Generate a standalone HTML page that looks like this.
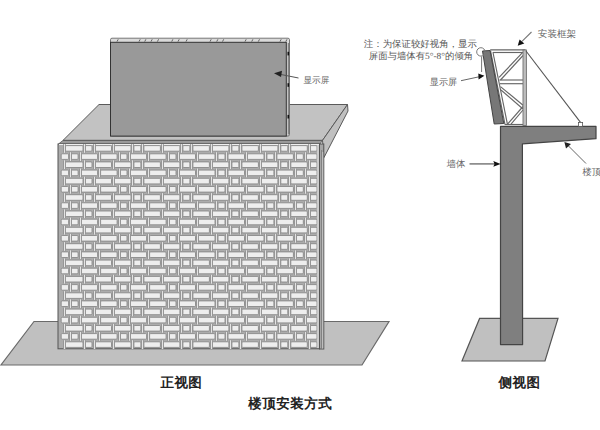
<!DOCTYPE html>
<html><head><meta charset="utf-8">
<style>
html,body{margin:0;padding:0;background:#fff;}
body{width:600px;height:430px;overflow:hidden;position:relative;}
svg{position:absolute;left:0;top:0;}
.br{fill:#eeeeee;stroke:#858585;stroke-width:0.85;}
.jt{fill:#e4e4e4;}
.jd{fill:#969696;}
.tk{stroke:#555;stroke-width:0.9;}
.fr line{stroke:#666;stroke-width:1.15;}
text{font-family:"Liberation Serif", serif;}
</style></head><body>
<svg width="600" height="430" viewBox="0 0 600 430" text-rendering="geometricPrecision">
<rect x="0" y="0" width="600" height="430" fill="#fff"/>
<!-- FRONT VIEW -->
<polygon points="34,321.5 389,321.5 362,365 1,365" fill="#c0c0c0" stroke="#6a6a6a" stroke-width="1.2"/>
<polygon points="99,104.5 347.5,104.5 322.5,140.4 63,140.4" fill="#c2c2c2" stroke="#5a5a5a" stroke-width="1"/>
<polygon points="347.5,104.5 348,111 324,157.5 322.5,140.4" fill="#c0c0c0" stroke="#5a5a5a" stroke-width="1"/>
<polygon points="63,140.4 322.5,140.4 320,144 58.5,144" fill="#9a9a9a" stroke="#555" stroke-width="0.8"/>
<rect x="58" y="144" width="261.5" height="204.8" fill="#acacac" stroke="#555" stroke-width="1"/>
<line x1="59" y1="144.5" x2="319" y2="144.5" stroke="#efefef" stroke-width="1"/>
<rect x="65.5" y="145.6" width="17.5" height="5.6" rx="1" class="br"/>
<rect x="85.0" y="145.6" width="7.0" height="5.6" rx="1" class="br"/>
<rect x="95.0" y="145.6" width="16.5" height="5.6" rx="1" class="br"/>
<rect x="114.5" y="145.6" width="16.5" height="5.6" rx="1" class="br"/>
<rect x="133.9" y="145.6" width="7.0" height="5.6" rx="1" class="br"/>
<rect x="143.9" y="145.6" width="16.5" height="5.6" rx="1" class="br"/>
<rect x="163.4" y="145.6" width="16.5" height="5.6" rx="1" class="br"/>
<rect x="182.9" y="145.6" width="7.0" height="5.6" rx="1" class="br"/>
<rect x="192.9" y="145.6" width="16.5" height="5.6" rx="1" class="br"/>
<rect x="212.4" y="145.6" width="16.5" height="5.6" rx="1" class="br"/>
<rect x="231.9" y="145.6" width="7.0" height="5.6" rx="1" class="br"/>
<rect x="241.9" y="145.6" width="16.5" height="5.6" rx="1" class="br"/>
<rect x="261.4" y="145.6" width="16.5" height="5.6" rx="1" class="br"/>
<rect x="280.8" y="145.6" width="7.0" height="5.6" rx="1" class="br"/>
<rect x="290.8" y="145.6" width="16.5" height="5.6" rx="1" class="br"/>
<rect x="310.0" y="145.6" width="7.0" height="5.6" rx="1" class="br"/>
<rect x="63" y="144.2" width="3" height="8.4" class="jd"/>
<rect x="64" y="144.0" width="1" height="8.8" class="jt"/>
<rect x="83" y="144.2" width="3" height="8.4" class="jd"/>
<rect x="84" y="144.0" width="1" height="8.8" class="jt"/>
<rect x="93" y="144.2" width="3" height="8.4" class="jd"/>
<rect x="94" y="144.0" width="1" height="8.8" class="jt"/>
<rect x="112" y="144.2" width="3" height="8.4" class="jd"/>
<rect x="113" y="144.0" width="1" height="8.8" class="jt"/>
<rect x="131" y="144.2" width="3" height="8.4" class="jd"/>
<rect x="132" y="144.0" width="1" height="8.8" class="jt"/>
<rect x="141" y="144.2" width="3" height="8.4" class="jd"/>
<rect x="142" y="144.0" width="1" height="8.8" class="jt"/>
<rect x="161" y="144.2" width="3" height="8.4" class="jd"/>
<rect x="162" y="144.0" width="1" height="8.8" class="jt"/>
<rect x="180" y="144.2" width="3" height="8.4" class="jd"/>
<rect x="181" y="144.0" width="1" height="8.8" class="jt"/>
<rect x="190" y="144.2" width="3" height="8.4" class="jd"/>
<rect x="191" y="144.0" width="1" height="8.8" class="jt"/>
<rect x="210" y="144.2" width="3" height="8.4" class="jd"/>
<rect x="211" y="144.0" width="1" height="8.8" class="jt"/>
<rect x="229" y="144.2" width="3" height="8.4" class="jd"/>
<rect x="230" y="144.0" width="1" height="8.8" class="jt"/>
<rect x="239" y="144.2" width="3" height="8.4" class="jd"/>
<rect x="240" y="144.0" width="1" height="8.8" class="jt"/>
<rect x="259" y="144.2" width="3" height="8.4" class="jd"/>
<rect x="260" y="144.0" width="1" height="8.8" class="jt"/>
<rect x="278" y="144.2" width="3" height="8.4" class="jd"/>
<rect x="279" y="144.0" width="1" height="8.8" class="jt"/>
<rect x="288" y="144.2" width="3" height="8.4" class="jd"/>
<rect x="289" y="144.0" width="1" height="8.8" class="jt"/>
<rect x="308" y="144.2" width="3" height="8.4" class="jd"/>
<rect x="309" y="144.0" width="1" height="8.8" class="jt"/>
<rect x="61.2" y="153.8" width="7.4" height="5.6" rx="1" class="br"/>
<rect x="71.1" y="153.8" width="7.0" height="5.6" rx="1" class="br"/>
<rect x="81.1" y="153.8" width="16.5" height="5.6" rx="1" class="br"/>
<rect x="100.6" y="153.8" width="16.5" height="5.6" rx="1" class="br"/>
<rect x="120.0" y="153.8" width="7.0" height="5.6" rx="1" class="br"/>
<rect x="130.1" y="153.8" width="16.5" height="5.6" rx="1" class="br"/>
<rect x="149.6" y="153.8" width="16.5" height="5.6" rx="1" class="br"/>
<rect x="169.0" y="153.8" width="7.0" height="5.6" rx="1" class="br"/>
<rect x="179.0" y="153.8" width="16.5" height="5.6" rx="1" class="br"/>
<rect x="198.5" y="153.8" width="16.5" height="5.6" rx="1" class="br"/>
<rect x="218.0" y="153.8" width="7.0" height="5.6" rx="1" class="br"/>
<rect x="228.0" y="153.8" width="16.5" height="5.6" rx="1" class="br"/>
<rect x="247.5" y="153.8" width="16.5" height="5.6" rx="1" class="br"/>
<rect x="266.9" y="153.8" width="7.0" height="5.6" rx="1" class="br"/>
<rect x="276.9" y="153.8" width="16.5" height="5.6" rx="1" class="br"/>
<rect x="295.8" y="153.8" width="7.5" height="5.6" rx="1" class="br"/>
<rect x="306.5" y="153.8" width="10.5" height="5.6" rx="1" class="br"/>
<rect x="69" y="152.4" width="3" height="8.4" class="jd"/>
<rect x="70" y="152.2" width="1" height="8.8" class="jt"/>
<rect x="79" y="152.4" width="3" height="8.4" class="jd"/>
<rect x="80" y="152.2" width="1" height="8.8" class="jt"/>
<rect x="98" y="152.4" width="3" height="8.4" class="jd"/>
<rect x="99" y="152.2" width="1" height="8.8" class="jt"/>
<rect x="118" y="152.4" width="3" height="8.4" class="jd"/>
<rect x="119" y="152.2" width="1" height="8.8" class="jt"/>
<rect x="128" y="152.4" width="3" height="8.4" class="jd"/>
<rect x="129" y="152.2" width="1" height="8.8" class="jt"/>
<rect x="147" y="152.4" width="3" height="8.4" class="jd"/>
<rect x="148" y="152.2" width="1" height="8.8" class="jt"/>
<rect x="167" y="152.4" width="3" height="8.4" class="jd"/>
<rect x="168" y="152.2" width="1" height="8.8" class="jt"/>
<rect x="177" y="152.4" width="3" height="8.4" class="jd"/>
<rect x="178" y="152.2" width="1" height="8.8" class="jt"/>
<rect x="196" y="152.4" width="3" height="8.4" class="jd"/>
<rect x="197" y="152.2" width="1" height="8.8" class="jt"/>
<rect x="215" y="152.4" width="3" height="8.4" class="jd"/>
<rect x="216" y="152.2" width="1" height="8.8" class="jt"/>
<rect x="225" y="152.4" width="3" height="8.4" class="jd"/>
<rect x="226" y="152.2" width="1" height="8.8" class="jt"/>
<rect x="245" y="152.4" width="3" height="8.4" class="jd"/>
<rect x="246" y="152.2" width="1" height="8.8" class="jt"/>
<rect x="264" y="152.4" width="3" height="8.4" class="jd"/>
<rect x="265" y="152.2" width="1" height="8.8" class="jt"/>
<rect x="274" y="152.4" width="3" height="8.4" class="jd"/>
<rect x="275" y="152.2" width="1" height="8.8" class="jt"/>
<rect x="294" y="152.4" width="3" height="8.4" class="jd"/>
<rect x="295" y="152.2" width="1" height="8.8" class="jt"/>
<rect x="304" y="152.4" width="3" height="8.4" class="jd"/>
<rect x="305" y="152.2" width="1" height="8.8" class="jt"/>
<rect x="65.5" y="161.9" width="17.5" height="5.6" rx="1" class="br"/>
<rect x="85.0" y="161.9" width="7.0" height="5.6" rx="1" class="br"/>
<rect x="95.0" y="161.9" width="16.5" height="5.6" rx="1" class="br"/>
<rect x="114.5" y="161.9" width="16.5" height="5.6" rx="1" class="br"/>
<rect x="133.9" y="161.9" width="7.0" height="5.6" rx="1" class="br"/>
<rect x="143.9" y="161.9" width="16.5" height="5.6" rx="1" class="br"/>
<rect x="163.4" y="161.9" width="16.5" height="5.6" rx="1" class="br"/>
<rect x="182.9" y="161.9" width="7.0" height="5.6" rx="1" class="br"/>
<rect x="192.9" y="161.9" width="16.5" height="5.6" rx="1" class="br"/>
<rect x="212.4" y="161.9" width="16.5" height="5.6" rx="1" class="br"/>
<rect x="231.9" y="161.9" width="7.0" height="5.6" rx="1" class="br"/>
<rect x="241.9" y="161.9" width="16.5" height="5.6" rx="1" class="br"/>
<rect x="261.4" y="161.9" width="16.5" height="5.6" rx="1" class="br"/>
<rect x="280.8" y="161.9" width="7.0" height="5.6" rx="1" class="br"/>
<rect x="290.8" y="161.9" width="16.5" height="5.6" rx="1" class="br"/>
<rect x="310.0" y="161.9" width="7.0" height="5.6" rx="1" class="br"/>
<rect x="63" y="160.5" width="3" height="8.4" class="jd"/>
<rect x="64" y="160.3" width="1" height="8.8" class="jt"/>
<rect x="83" y="160.5" width="3" height="8.4" class="jd"/>
<rect x="84" y="160.3" width="1" height="8.8" class="jt"/>
<rect x="93" y="160.5" width="3" height="8.4" class="jd"/>
<rect x="94" y="160.3" width="1" height="8.8" class="jt"/>
<rect x="112" y="160.5" width="3" height="8.4" class="jd"/>
<rect x="113" y="160.3" width="1" height="8.8" class="jt"/>
<rect x="131" y="160.5" width="3" height="8.4" class="jd"/>
<rect x="132" y="160.3" width="1" height="8.8" class="jt"/>
<rect x="141" y="160.5" width="3" height="8.4" class="jd"/>
<rect x="142" y="160.3" width="1" height="8.8" class="jt"/>
<rect x="161" y="160.5" width="3" height="8.4" class="jd"/>
<rect x="162" y="160.3" width="1" height="8.8" class="jt"/>
<rect x="180" y="160.5" width="3" height="8.4" class="jd"/>
<rect x="181" y="160.3" width="1" height="8.8" class="jt"/>
<rect x="190" y="160.5" width="3" height="8.4" class="jd"/>
<rect x="191" y="160.3" width="1" height="8.8" class="jt"/>
<rect x="210" y="160.5" width="3" height="8.4" class="jd"/>
<rect x="211" y="160.3" width="1" height="8.8" class="jt"/>
<rect x="229" y="160.5" width="3" height="8.4" class="jd"/>
<rect x="230" y="160.3" width="1" height="8.8" class="jt"/>
<rect x="239" y="160.5" width="3" height="8.4" class="jd"/>
<rect x="240" y="160.3" width="1" height="8.8" class="jt"/>
<rect x="259" y="160.5" width="3" height="8.4" class="jd"/>
<rect x="260" y="160.3" width="1" height="8.8" class="jt"/>
<rect x="278" y="160.5" width="3" height="8.4" class="jd"/>
<rect x="279" y="160.3" width="1" height="8.8" class="jt"/>
<rect x="288" y="160.5" width="3" height="8.4" class="jd"/>
<rect x="289" y="160.3" width="1" height="8.8" class="jt"/>
<rect x="308" y="160.5" width="3" height="8.4" class="jd"/>
<rect x="309" y="160.3" width="1" height="8.8" class="jt"/>
<rect x="61.2" y="170.1" width="7.4" height="5.6" rx="1" class="br"/>
<rect x="71.1" y="170.1" width="7.0" height="5.6" rx="1" class="br"/>
<rect x="81.1" y="170.1" width="16.5" height="5.6" rx="1" class="br"/>
<rect x="100.6" y="170.1" width="16.5" height="5.6" rx="1" class="br"/>
<rect x="120.0" y="170.1" width="7.0" height="5.6" rx="1" class="br"/>
<rect x="130.1" y="170.1" width="16.5" height="5.6" rx="1" class="br"/>
<rect x="149.6" y="170.1" width="16.5" height="5.6" rx="1" class="br"/>
<rect x="169.0" y="170.1" width="7.0" height="5.6" rx="1" class="br"/>
<rect x="179.0" y="170.1" width="16.5" height="5.6" rx="1" class="br"/>
<rect x="198.5" y="170.1" width="16.5" height="5.6" rx="1" class="br"/>
<rect x="218.0" y="170.1" width="7.0" height="5.6" rx="1" class="br"/>
<rect x="228.0" y="170.1" width="16.5" height="5.6" rx="1" class="br"/>
<rect x="247.5" y="170.1" width="16.5" height="5.6" rx="1" class="br"/>
<rect x="266.9" y="170.1" width="7.0" height="5.6" rx="1" class="br"/>
<rect x="276.9" y="170.1" width="16.5" height="5.6" rx="1" class="br"/>
<rect x="295.8" y="170.1" width="7.5" height="5.6" rx="1" class="br"/>
<rect x="306.5" y="170.1" width="10.5" height="5.6" rx="1" class="br"/>
<rect x="69" y="168.7" width="3" height="8.4" class="jd"/>
<rect x="70" y="168.5" width="1" height="8.8" class="jt"/>
<rect x="79" y="168.7" width="3" height="8.4" class="jd"/>
<rect x="80" y="168.5" width="1" height="8.8" class="jt"/>
<rect x="98" y="168.7" width="3" height="8.4" class="jd"/>
<rect x="99" y="168.5" width="1" height="8.8" class="jt"/>
<rect x="118" y="168.7" width="3" height="8.4" class="jd"/>
<rect x="119" y="168.5" width="1" height="8.8" class="jt"/>
<rect x="128" y="168.7" width="3" height="8.4" class="jd"/>
<rect x="129" y="168.5" width="1" height="8.8" class="jt"/>
<rect x="147" y="168.7" width="3" height="8.4" class="jd"/>
<rect x="148" y="168.5" width="1" height="8.8" class="jt"/>
<rect x="167" y="168.7" width="3" height="8.4" class="jd"/>
<rect x="168" y="168.5" width="1" height="8.8" class="jt"/>
<rect x="177" y="168.7" width="3" height="8.4" class="jd"/>
<rect x="178" y="168.5" width="1" height="8.8" class="jt"/>
<rect x="196" y="168.7" width="3" height="8.4" class="jd"/>
<rect x="197" y="168.5" width="1" height="8.8" class="jt"/>
<rect x="215" y="168.7" width="3" height="8.4" class="jd"/>
<rect x="216" y="168.5" width="1" height="8.8" class="jt"/>
<rect x="225" y="168.7" width="3" height="8.4" class="jd"/>
<rect x="226" y="168.5" width="1" height="8.8" class="jt"/>
<rect x="245" y="168.7" width="3" height="8.4" class="jd"/>
<rect x="246" y="168.5" width="1" height="8.8" class="jt"/>
<rect x="264" y="168.7" width="3" height="8.4" class="jd"/>
<rect x="265" y="168.5" width="1" height="8.8" class="jt"/>
<rect x="274" y="168.7" width="3" height="8.4" class="jd"/>
<rect x="275" y="168.5" width="1" height="8.8" class="jt"/>
<rect x="294" y="168.7" width="3" height="8.4" class="jd"/>
<rect x="295" y="168.5" width="1" height="8.8" class="jt"/>
<rect x="304" y="168.7" width="3" height="8.4" class="jd"/>
<rect x="305" y="168.5" width="1" height="8.8" class="jt"/>
<rect x="65.5" y="178.3" width="17.5" height="5.6" rx="1" class="br"/>
<rect x="85.0" y="178.3" width="7.0" height="5.6" rx="1" class="br"/>
<rect x="95.0" y="178.3" width="16.5" height="5.6" rx="1" class="br"/>
<rect x="114.5" y="178.3" width="16.5" height="5.6" rx="1" class="br"/>
<rect x="133.9" y="178.3" width="7.0" height="5.6" rx="1" class="br"/>
<rect x="143.9" y="178.3" width="16.5" height="5.6" rx="1" class="br"/>
<rect x="163.4" y="178.3" width="16.5" height="5.6" rx="1" class="br"/>
<rect x="182.9" y="178.3" width="7.0" height="5.6" rx="1" class="br"/>
<rect x="192.9" y="178.3" width="16.5" height="5.6" rx="1" class="br"/>
<rect x="212.4" y="178.3" width="16.5" height="5.6" rx="1" class="br"/>
<rect x="231.9" y="178.3" width="7.0" height="5.6" rx="1" class="br"/>
<rect x="241.9" y="178.3" width="16.5" height="5.6" rx="1" class="br"/>
<rect x="261.4" y="178.3" width="16.5" height="5.6" rx="1" class="br"/>
<rect x="280.8" y="178.3" width="7.0" height="5.6" rx="1" class="br"/>
<rect x="290.8" y="178.3" width="16.5" height="5.6" rx="1" class="br"/>
<rect x="310.0" y="178.3" width="7.0" height="5.6" rx="1" class="br"/>
<rect x="63" y="176.9" width="3" height="8.4" class="jd"/>
<rect x="64" y="176.7" width="1" height="8.8" class="jt"/>
<rect x="83" y="176.9" width="3" height="8.4" class="jd"/>
<rect x="84" y="176.7" width="1" height="8.8" class="jt"/>
<rect x="93" y="176.9" width="3" height="8.4" class="jd"/>
<rect x="94" y="176.7" width="1" height="8.8" class="jt"/>
<rect x="112" y="176.9" width="3" height="8.4" class="jd"/>
<rect x="113" y="176.7" width="1" height="8.8" class="jt"/>
<rect x="131" y="176.9" width="3" height="8.4" class="jd"/>
<rect x="132" y="176.7" width="1" height="8.8" class="jt"/>
<rect x="141" y="176.9" width="3" height="8.4" class="jd"/>
<rect x="142" y="176.7" width="1" height="8.8" class="jt"/>
<rect x="161" y="176.9" width="3" height="8.4" class="jd"/>
<rect x="162" y="176.7" width="1" height="8.8" class="jt"/>
<rect x="180" y="176.9" width="3" height="8.4" class="jd"/>
<rect x="181" y="176.7" width="1" height="8.8" class="jt"/>
<rect x="190" y="176.9" width="3" height="8.4" class="jd"/>
<rect x="191" y="176.7" width="1" height="8.8" class="jt"/>
<rect x="210" y="176.9" width="3" height="8.4" class="jd"/>
<rect x="211" y="176.7" width="1" height="8.8" class="jt"/>
<rect x="229" y="176.9" width="3" height="8.4" class="jd"/>
<rect x="230" y="176.7" width="1" height="8.8" class="jt"/>
<rect x="239" y="176.9" width="3" height="8.4" class="jd"/>
<rect x="240" y="176.7" width="1" height="8.8" class="jt"/>
<rect x="259" y="176.9" width="3" height="8.4" class="jd"/>
<rect x="260" y="176.7" width="1" height="8.8" class="jt"/>
<rect x="278" y="176.9" width="3" height="8.4" class="jd"/>
<rect x="279" y="176.7" width="1" height="8.8" class="jt"/>
<rect x="288" y="176.9" width="3" height="8.4" class="jd"/>
<rect x="289" y="176.7" width="1" height="8.8" class="jt"/>
<rect x="308" y="176.9" width="3" height="8.4" class="jd"/>
<rect x="309" y="176.7" width="1" height="8.8" class="jt"/>
<rect x="61.2" y="186.5" width="7.4" height="5.6" rx="1" class="br"/>
<rect x="71.1" y="186.5" width="7.0" height="5.6" rx="1" class="br"/>
<rect x="81.1" y="186.5" width="16.5" height="5.6" rx="1" class="br"/>
<rect x="100.6" y="186.5" width="16.5" height="5.6" rx="1" class="br"/>
<rect x="120.0" y="186.5" width="7.0" height="5.6" rx="1" class="br"/>
<rect x="130.1" y="186.5" width="16.5" height="5.6" rx="1" class="br"/>
<rect x="149.6" y="186.5" width="16.5" height="5.6" rx="1" class="br"/>
<rect x="169.0" y="186.5" width="7.0" height="5.6" rx="1" class="br"/>
<rect x="179.0" y="186.5" width="16.5" height="5.6" rx="1" class="br"/>
<rect x="198.5" y="186.5" width="16.5" height="5.6" rx="1" class="br"/>
<rect x="218.0" y="186.5" width="7.0" height="5.6" rx="1" class="br"/>
<rect x="228.0" y="186.5" width="16.5" height="5.6" rx="1" class="br"/>
<rect x="247.5" y="186.5" width="16.5" height="5.6" rx="1" class="br"/>
<rect x="266.9" y="186.5" width="7.0" height="5.6" rx="1" class="br"/>
<rect x="276.9" y="186.5" width="16.5" height="5.6" rx="1" class="br"/>
<rect x="295.8" y="186.5" width="7.5" height="5.6" rx="1" class="br"/>
<rect x="306.5" y="186.5" width="10.5" height="5.6" rx="1" class="br"/>
<rect x="69" y="185.1" width="3" height="8.4" class="jd"/>
<rect x="70" y="184.9" width="1" height="8.8" class="jt"/>
<rect x="79" y="185.1" width="3" height="8.4" class="jd"/>
<rect x="80" y="184.9" width="1" height="8.8" class="jt"/>
<rect x="98" y="185.1" width="3" height="8.4" class="jd"/>
<rect x="99" y="184.9" width="1" height="8.8" class="jt"/>
<rect x="118" y="185.1" width="3" height="8.4" class="jd"/>
<rect x="119" y="184.9" width="1" height="8.8" class="jt"/>
<rect x="128" y="185.1" width="3" height="8.4" class="jd"/>
<rect x="129" y="184.9" width="1" height="8.8" class="jt"/>
<rect x="147" y="185.1" width="3" height="8.4" class="jd"/>
<rect x="148" y="184.9" width="1" height="8.8" class="jt"/>
<rect x="167" y="185.1" width="3" height="8.4" class="jd"/>
<rect x="168" y="184.9" width="1" height="8.8" class="jt"/>
<rect x="177" y="185.1" width="3" height="8.4" class="jd"/>
<rect x="178" y="184.9" width="1" height="8.8" class="jt"/>
<rect x="196" y="185.1" width="3" height="8.4" class="jd"/>
<rect x="197" y="184.9" width="1" height="8.8" class="jt"/>
<rect x="215" y="185.1" width="3" height="8.4" class="jd"/>
<rect x="216" y="184.9" width="1" height="8.8" class="jt"/>
<rect x="225" y="185.1" width="3" height="8.4" class="jd"/>
<rect x="226" y="184.9" width="1" height="8.8" class="jt"/>
<rect x="245" y="185.1" width="3" height="8.4" class="jd"/>
<rect x="246" y="184.9" width="1" height="8.8" class="jt"/>
<rect x="264" y="185.1" width="3" height="8.4" class="jd"/>
<rect x="265" y="184.9" width="1" height="8.8" class="jt"/>
<rect x="274" y="185.1" width="3" height="8.4" class="jd"/>
<rect x="275" y="184.9" width="1" height="8.8" class="jt"/>
<rect x="294" y="185.1" width="3" height="8.4" class="jd"/>
<rect x="295" y="184.9" width="1" height="8.8" class="jt"/>
<rect x="304" y="185.1" width="3" height="8.4" class="jd"/>
<rect x="305" y="184.9" width="1" height="8.8" class="jt"/>
<rect x="65.5" y="194.7" width="17.5" height="5.6" rx="1" class="br"/>
<rect x="85.0" y="194.7" width="7.0" height="5.6" rx="1" class="br"/>
<rect x="95.0" y="194.7" width="16.5" height="5.6" rx="1" class="br"/>
<rect x="114.5" y="194.7" width="16.5" height="5.6" rx="1" class="br"/>
<rect x="133.9" y="194.7" width="7.0" height="5.6" rx="1" class="br"/>
<rect x="143.9" y="194.7" width="16.5" height="5.6" rx="1" class="br"/>
<rect x="163.4" y="194.7" width="16.5" height="5.6" rx="1" class="br"/>
<rect x="182.9" y="194.7" width="7.0" height="5.6" rx="1" class="br"/>
<rect x="192.9" y="194.7" width="16.5" height="5.6" rx="1" class="br"/>
<rect x="212.4" y="194.7" width="16.5" height="5.6" rx="1" class="br"/>
<rect x="231.9" y="194.7" width="7.0" height="5.6" rx="1" class="br"/>
<rect x="241.9" y="194.7" width="16.5" height="5.6" rx="1" class="br"/>
<rect x="261.4" y="194.7" width="16.5" height="5.6" rx="1" class="br"/>
<rect x="280.8" y="194.7" width="7.0" height="5.6" rx="1" class="br"/>
<rect x="290.8" y="194.7" width="16.5" height="5.6" rx="1" class="br"/>
<rect x="310.0" y="194.7" width="7.0" height="5.6" rx="1" class="br"/>
<rect x="63" y="193.2" width="3" height="8.4" class="jd"/>
<rect x="64" y="193.1" width="1" height="8.8" class="jt"/>
<rect x="83" y="193.2" width="3" height="8.4" class="jd"/>
<rect x="84" y="193.1" width="1" height="8.8" class="jt"/>
<rect x="93" y="193.2" width="3" height="8.4" class="jd"/>
<rect x="94" y="193.1" width="1" height="8.8" class="jt"/>
<rect x="112" y="193.2" width="3" height="8.4" class="jd"/>
<rect x="113" y="193.1" width="1" height="8.8" class="jt"/>
<rect x="131" y="193.2" width="3" height="8.4" class="jd"/>
<rect x="132" y="193.1" width="1" height="8.8" class="jt"/>
<rect x="141" y="193.2" width="3" height="8.4" class="jd"/>
<rect x="142" y="193.1" width="1" height="8.8" class="jt"/>
<rect x="161" y="193.2" width="3" height="8.4" class="jd"/>
<rect x="162" y="193.1" width="1" height="8.8" class="jt"/>
<rect x="180" y="193.2" width="3" height="8.4" class="jd"/>
<rect x="181" y="193.1" width="1" height="8.8" class="jt"/>
<rect x="190" y="193.2" width="3" height="8.4" class="jd"/>
<rect x="191" y="193.1" width="1" height="8.8" class="jt"/>
<rect x="210" y="193.2" width="3" height="8.4" class="jd"/>
<rect x="211" y="193.1" width="1" height="8.8" class="jt"/>
<rect x="229" y="193.2" width="3" height="8.4" class="jd"/>
<rect x="230" y="193.1" width="1" height="8.8" class="jt"/>
<rect x="239" y="193.2" width="3" height="8.4" class="jd"/>
<rect x="240" y="193.1" width="1" height="8.8" class="jt"/>
<rect x="259" y="193.2" width="3" height="8.4" class="jd"/>
<rect x="260" y="193.1" width="1" height="8.8" class="jt"/>
<rect x="278" y="193.2" width="3" height="8.4" class="jd"/>
<rect x="279" y="193.1" width="1" height="8.8" class="jt"/>
<rect x="288" y="193.2" width="3" height="8.4" class="jd"/>
<rect x="289" y="193.1" width="1" height="8.8" class="jt"/>
<rect x="308" y="193.2" width="3" height="8.4" class="jd"/>
<rect x="309" y="193.1" width="1" height="8.8" class="jt"/>
<rect x="61.2" y="202.8" width="7.4" height="5.6" rx="1" class="br"/>
<rect x="71.1" y="202.8" width="7.0" height="5.6" rx="1" class="br"/>
<rect x="81.1" y="202.8" width="16.5" height="5.6" rx="1" class="br"/>
<rect x="100.6" y="202.8" width="16.5" height="5.6" rx="1" class="br"/>
<rect x="120.0" y="202.8" width="7.0" height="5.6" rx="1" class="br"/>
<rect x="130.1" y="202.8" width="16.5" height="5.6" rx="1" class="br"/>
<rect x="149.6" y="202.8" width="16.5" height="5.6" rx="1" class="br"/>
<rect x="169.0" y="202.8" width="7.0" height="5.6" rx="1" class="br"/>
<rect x="179.0" y="202.8" width="16.5" height="5.6" rx="1" class="br"/>
<rect x="198.5" y="202.8" width="16.5" height="5.6" rx="1" class="br"/>
<rect x="218.0" y="202.8" width="7.0" height="5.6" rx="1" class="br"/>
<rect x="228.0" y="202.8" width="16.5" height="5.6" rx="1" class="br"/>
<rect x="247.5" y="202.8" width="16.5" height="5.6" rx="1" class="br"/>
<rect x="266.9" y="202.8" width="7.0" height="5.6" rx="1" class="br"/>
<rect x="276.9" y="202.8" width="16.5" height="5.6" rx="1" class="br"/>
<rect x="295.8" y="202.8" width="7.5" height="5.6" rx="1" class="br"/>
<rect x="306.5" y="202.8" width="10.5" height="5.6" rx="1" class="br"/>
<rect x="69" y="201.4" width="3" height="8.4" class="jd"/>
<rect x="70" y="201.2" width="1" height="8.8" class="jt"/>
<rect x="79" y="201.4" width="3" height="8.4" class="jd"/>
<rect x="80" y="201.2" width="1" height="8.8" class="jt"/>
<rect x="98" y="201.4" width="3" height="8.4" class="jd"/>
<rect x="99" y="201.2" width="1" height="8.8" class="jt"/>
<rect x="118" y="201.4" width="3" height="8.4" class="jd"/>
<rect x="119" y="201.2" width="1" height="8.8" class="jt"/>
<rect x="128" y="201.4" width="3" height="8.4" class="jd"/>
<rect x="129" y="201.2" width="1" height="8.8" class="jt"/>
<rect x="147" y="201.4" width="3" height="8.4" class="jd"/>
<rect x="148" y="201.2" width="1" height="8.8" class="jt"/>
<rect x="167" y="201.4" width="3" height="8.4" class="jd"/>
<rect x="168" y="201.2" width="1" height="8.8" class="jt"/>
<rect x="177" y="201.4" width="3" height="8.4" class="jd"/>
<rect x="178" y="201.2" width="1" height="8.8" class="jt"/>
<rect x="196" y="201.4" width="3" height="8.4" class="jd"/>
<rect x="197" y="201.2" width="1" height="8.8" class="jt"/>
<rect x="215" y="201.4" width="3" height="8.4" class="jd"/>
<rect x="216" y="201.2" width="1" height="8.8" class="jt"/>
<rect x="225" y="201.4" width="3" height="8.4" class="jd"/>
<rect x="226" y="201.2" width="1" height="8.8" class="jt"/>
<rect x="245" y="201.4" width="3" height="8.4" class="jd"/>
<rect x="246" y="201.2" width="1" height="8.8" class="jt"/>
<rect x="264" y="201.4" width="3" height="8.4" class="jd"/>
<rect x="265" y="201.2" width="1" height="8.8" class="jt"/>
<rect x="274" y="201.4" width="3" height="8.4" class="jd"/>
<rect x="275" y="201.2" width="1" height="8.8" class="jt"/>
<rect x="294" y="201.4" width="3" height="8.4" class="jd"/>
<rect x="295" y="201.2" width="1" height="8.8" class="jt"/>
<rect x="304" y="201.4" width="3" height="8.4" class="jd"/>
<rect x="305" y="201.2" width="1" height="8.8" class="jt"/>
<rect x="65.5" y="211.0" width="17.5" height="5.6" rx="1" class="br"/>
<rect x="85.0" y="211.0" width="7.0" height="5.6" rx="1" class="br"/>
<rect x="95.0" y="211.0" width="16.5" height="5.6" rx="1" class="br"/>
<rect x="114.5" y="211.0" width="16.5" height="5.6" rx="1" class="br"/>
<rect x="133.9" y="211.0" width="7.0" height="5.6" rx="1" class="br"/>
<rect x="143.9" y="211.0" width="16.5" height="5.6" rx="1" class="br"/>
<rect x="163.4" y="211.0" width="16.5" height="5.6" rx="1" class="br"/>
<rect x="182.9" y="211.0" width="7.0" height="5.6" rx="1" class="br"/>
<rect x="192.9" y="211.0" width="16.5" height="5.6" rx="1" class="br"/>
<rect x="212.4" y="211.0" width="16.5" height="5.6" rx="1" class="br"/>
<rect x="231.9" y="211.0" width="7.0" height="5.6" rx="1" class="br"/>
<rect x="241.9" y="211.0" width="16.5" height="5.6" rx="1" class="br"/>
<rect x="261.4" y="211.0" width="16.5" height="5.6" rx="1" class="br"/>
<rect x="280.8" y="211.0" width="7.0" height="5.6" rx="1" class="br"/>
<rect x="290.8" y="211.0" width="16.5" height="5.6" rx="1" class="br"/>
<rect x="310.0" y="211.0" width="7.0" height="5.6" rx="1" class="br"/>
<rect x="63" y="209.6" width="3" height="8.4" class="jd"/>
<rect x="64" y="209.4" width="1" height="8.8" class="jt"/>
<rect x="83" y="209.6" width="3" height="8.4" class="jd"/>
<rect x="84" y="209.4" width="1" height="8.8" class="jt"/>
<rect x="93" y="209.6" width="3" height="8.4" class="jd"/>
<rect x="94" y="209.4" width="1" height="8.8" class="jt"/>
<rect x="112" y="209.6" width="3" height="8.4" class="jd"/>
<rect x="113" y="209.4" width="1" height="8.8" class="jt"/>
<rect x="131" y="209.6" width="3" height="8.4" class="jd"/>
<rect x="132" y="209.4" width="1" height="8.8" class="jt"/>
<rect x="141" y="209.6" width="3" height="8.4" class="jd"/>
<rect x="142" y="209.4" width="1" height="8.8" class="jt"/>
<rect x="161" y="209.6" width="3" height="8.4" class="jd"/>
<rect x="162" y="209.4" width="1" height="8.8" class="jt"/>
<rect x="180" y="209.6" width="3" height="8.4" class="jd"/>
<rect x="181" y="209.4" width="1" height="8.8" class="jt"/>
<rect x="190" y="209.6" width="3" height="8.4" class="jd"/>
<rect x="191" y="209.4" width="1" height="8.8" class="jt"/>
<rect x="210" y="209.6" width="3" height="8.4" class="jd"/>
<rect x="211" y="209.4" width="1" height="8.8" class="jt"/>
<rect x="229" y="209.6" width="3" height="8.4" class="jd"/>
<rect x="230" y="209.4" width="1" height="8.8" class="jt"/>
<rect x="239" y="209.6" width="3" height="8.4" class="jd"/>
<rect x="240" y="209.4" width="1" height="8.8" class="jt"/>
<rect x="259" y="209.6" width="3" height="8.4" class="jd"/>
<rect x="260" y="209.4" width="1" height="8.8" class="jt"/>
<rect x="278" y="209.6" width="3" height="8.4" class="jd"/>
<rect x="279" y="209.4" width="1" height="8.8" class="jt"/>
<rect x="288" y="209.6" width="3" height="8.4" class="jd"/>
<rect x="289" y="209.4" width="1" height="8.8" class="jt"/>
<rect x="308" y="209.6" width="3" height="8.4" class="jd"/>
<rect x="309" y="209.4" width="1" height="8.8" class="jt"/>
<rect x="61.2" y="219.2" width="7.4" height="5.6" rx="1" class="br"/>
<rect x="71.1" y="219.2" width="7.0" height="5.6" rx="1" class="br"/>
<rect x="81.1" y="219.2" width="16.5" height="5.6" rx="1" class="br"/>
<rect x="100.6" y="219.2" width="16.5" height="5.6" rx="1" class="br"/>
<rect x="120.0" y="219.2" width="7.0" height="5.6" rx="1" class="br"/>
<rect x="130.1" y="219.2" width="16.5" height="5.6" rx="1" class="br"/>
<rect x="149.6" y="219.2" width="16.5" height="5.6" rx="1" class="br"/>
<rect x="169.0" y="219.2" width="7.0" height="5.6" rx="1" class="br"/>
<rect x="179.0" y="219.2" width="16.5" height="5.6" rx="1" class="br"/>
<rect x="198.5" y="219.2" width="16.5" height="5.6" rx="1" class="br"/>
<rect x="218.0" y="219.2" width="7.0" height="5.6" rx="1" class="br"/>
<rect x="228.0" y="219.2" width="16.5" height="5.6" rx="1" class="br"/>
<rect x="247.5" y="219.2" width="16.5" height="5.6" rx="1" class="br"/>
<rect x="266.9" y="219.2" width="7.0" height="5.6" rx="1" class="br"/>
<rect x="276.9" y="219.2" width="16.5" height="5.6" rx="1" class="br"/>
<rect x="295.8" y="219.2" width="7.5" height="5.6" rx="1" class="br"/>
<rect x="306.5" y="219.2" width="10.5" height="5.6" rx="1" class="br"/>
<rect x="69" y="217.8" width="3" height="8.4" class="jd"/>
<rect x="70" y="217.6" width="1" height="8.8" class="jt"/>
<rect x="79" y="217.8" width="3" height="8.4" class="jd"/>
<rect x="80" y="217.6" width="1" height="8.8" class="jt"/>
<rect x="98" y="217.8" width="3" height="8.4" class="jd"/>
<rect x="99" y="217.6" width="1" height="8.8" class="jt"/>
<rect x="118" y="217.8" width="3" height="8.4" class="jd"/>
<rect x="119" y="217.6" width="1" height="8.8" class="jt"/>
<rect x="128" y="217.8" width="3" height="8.4" class="jd"/>
<rect x="129" y="217.6" width="1" height="8.8" class="jt"/>
<rect x="147" y="217.8" width="3" height="8.4" class="jd"/>
<rect x="148" y="217.6" width="1" height="8.8" class="jt"/>
<rect x="167" y="217.8" width="3" height="8.4" class="jd"/>
<rect x="168" y="217.6" width="1" height="8.8" class="jt"/>
<rect x="177" y="217.8" width="3" height="8.4" class="jd"/>
<rect x="178" y="217.6" width="1" height="8.8" class="jt"/>
<rect x="196" y="217.8" width="3" height="8.4" class="jd"/>
<rect x="197" y="217.6" width="1" height="8.8" class="jt"/>
<rect x="215" y="217.8" width="3" height="8.4" class="jd"/>
<rect x="216" y="217.6" width="1" height="8.8" class="jt"/>
<rect x="225" y="217.8" width="3" height="8.4" class="jd"/>
<rect x="226" y="217.6" width="1" height="8.8" class="jt"/>
<rect x="245" y="217.8" width="3" height="8.4" class="jd"/>
<rect x="246" y="217.6" width="1" height="8.8" class="jt"/>
<rect x="264" y="217.8" width="3" height="8.4" class="jd"/>
<rect x="265" y="217.6" width="1" height="8.8" class="jt"/>
<rect x="274" y="217.8" width="3" height="8.4" class="jd"/>
<rect x="275" y="217.6" width="1" height="8.8" class="jt"/>
<rect x="294" y="217.8" width="3" height="8.4" class="jd"/>
<rect x="295" y="217.6" width="1" height="8.8" class="jt"/>
<rect x="304" y="217.8" width="3" height="8.4" class="jd"/>
<rect x="305" y="217.6" width="1" height="8.8" class="jt"/>
<rect x="65.5" y="227.3" width="17.5" height="5.6" rx="1" class="br"/>
<rect x="85.0" y="227.3" width="7.0" height="5.6" rx="1" class="br"/>
<rect x="95.0" y="227.3" width="16.5" height="5.6" rx="1" class="br"/>
<rect x="114.5" y="227.3" width="16.5" height="5.6" rx="1" class="br"/>
<rect x="133.9" y="227.3" width="7.0" height="5.6" rx="1" class="br"/>
<rect x="143.9" y="227.3" width="16.5" height="5.6" rx="1" class="br"/>
<rect x="163.4" y="227.3" width="16.5" height="5.6" rx="1" class="br"/>
<rect x="182.9" y="227.3" width="7.0" height="5.6" rx="1" class="br"/>
<rect x="192.9" y="227.3" width="16.5" height="5.6" rx="1" class="br"/>
<rect x="212.4" y="227.3" width="16.5" height="5.6" rx="1" class="br"/>
<rect x="231.9" y="227.3" width="7.0" height="5.6" rx="1" class="br"/>
<rect x="241.9" y="227.3" width="16.5" height="5.6" rx="1" class="br"/>
<rect x="261.4" y="227.3" width="16.5" height="5.6" rx="1" class="br"/>
<rect x="280.8" y="227.3" width="7.0" height="5.6" rx="1" class="br"/>
<rect x="290.8" y="227.3" width="16.5" height="5.6" rx="1" class="br"/>
<rect x="310.0" y="227.3" width="7.0" height="5.6" rx="1" class="br"/>
<rect x="63" y="225.9" width="3" height="8.4" class="jd"/>
<rect x="64" y="225.8" width="1" height="8.8" class="jt"/>
<rect x="83" y="225.9" width="3" height="8.4" class="jd"/>
<rect x="84" y="225.8" width="1" height="8.8" class="jt"/>
<rect x="93" y="225.9" width="3" height="8.4" class="jd"/>
<rect x="94" y="225.8" width="1" height="8.8" class="jt"/>
<rect x="112" y="225.9" width="3" height="8.4" class="jd"/>
<rect x="113" y="225.8" width="1" height="8.8" class="jt"/>
<rect x="131" y="225.9" width="3" height="8.4" class="jd"/>
<rect x="132" y="225.8" width="1" height="8.8" class="jt"/>
<rect x="141" y="225.9" width="3" height="8.4" class="jd"/>
<rect x="142" y="225.8" width="1" height="8.8" class="jt"/>
<rect x="161" y="225.9" width="3" height="8.4" class="jd"/>
<rect x="162" y="225.8" width="1" height="8.8" class="jt"/>
<rect x="180" y="225.9" width="3" height="8.4" class="jd"/>
<rect x="181" y="225.8" width="1" height="8.8" class="jt"/>
<rect x="190" y="225.9" width="3" height="8.4" class="jd"/>
<rect x="191" y="225.8" width="1" height="8.8" class="jt"/>
<rect x="210" y="225.9" width="3" height="8.4" class="jd"/>
<rect x="211" y="225.8" width="1" height="8.8" class="jt"/>
<rect x="229" y="225.9" width="3" height="8.4" class="jd"/>
<rect x="230" y="225.8" width="1" height="8.8" class="jt"/>
<rect x="239" y="225.9" width="3" height="8.4" class="jd"/>
<rect x="240" y="225.8" width="1" height="8.8" class="jt"/>
<rect x="259" y="225.9" width="3" height="8.4" class="jd"/>
<rect x="260" y="225.8" width="1" height="8.8" class="jt"/>
<rect x="278" y="225.9" width="3" height="8.4" class="jd"/>
<rect x="279" y="225.8" width="1" height="8.8" class="jt"/>
<rect x="288" y="225.9" width="3" height="8.4" class="jd"/>
<rect x="289" y="225.8" width="1" height="8.8" class="jt"/>
<rect x="308" y="225.9" width="3" height="8.4" class="jd"/>
<rect x="309" y="225.8" width="1" height="8.8" class="jt"/>
<rect x="61.2" y="235.5" width="7.4" height="5.6" rx="1" class="br"/>
<rect x="71.1" y="235.5" width="7.0" height="5.6" rx="1" class="br"/>
<rect x="81.1" y="235.5" width="16.5" height="5.6" rx="1" class="br"/>
<rect x="100.6" y="235.5" width="16.5" height="5.6" rx="1" class="br"/>
<rect x="120.0" y="235.5" width="7.0" height="5.6" rx="1" class="br"/>
<rect x="130.1" y="235.5" width="16.5" height="5.6" rx="1" class="br"/>
<rect x="149.6" y="235.5" width="16.5" height="5.6" rx="1" class="br"/>
<rect x="169.0" y="235.5" width="7.0" height="5.6" rx="1" class="br"/>
<rect x="179.0" y="235.5" width="16.5" height="5.6" rx="1" class="br"/>
<rect x="198.5" y="235.5" width="16.5" height="5.6" rx="1" class="br"/>
<rect x="218.0" y="235.5" width="7.0" height="5.6" rx="1" class="br"/>
<rect x="228.0" y="235.5" width="16.5" height="5.6" rx="1" class="br"/>
<rect x="247.5" y="235.5" width="16.5" height="5.6" rx="1" class="br"/>
<rect x="266.9" y="235.5" width="7.0" height="5.6" rx="1" class="br"/>
<rect x="276.9" y="235.5" width="16.5" height="5.6" rx="1" class="br"/>
<rect x="295.8" y="235.5" width="7.5" height="5.6" rx="1" class="br"/>
<rect x="306.5" y="235.5" width="10.5" height="5.6" rx="1" class="br"/>
<rect x="69" y="234.1" width="3" height="8.4" class="jd"/>
<rect x="70" y="233.9" width="1" height="8.8" class="jt"/>
<rect x="79" y="234.1" width="3" height="8.4" class="jd"/>
<rect x="80" y="233.9" width="1" height="8.8" class="jt"/>
<rect x="98" y="234.1" width="3" height="8.4" class="jd"/>
<rect x="99" y="233.9" width="1" height="8.8" class="jt"/>
<rect x="118" y="234.1" width="3" height="8.4" class="jd"/>
<rect x="119" y="233.9" width="1" height="8.8" class="jt"/>
<rect x="128" y="234.1" width="3" height="8.4" class="jd"/>
<rect x="129" y="233.9" width="1" height="8.8" class="jt"/>
<rect x="147" y="234.1" width="3" height="8.4" class="jd"/>
<rect x="148" y="233.9" width="1" height="8.8" class="jt"/>
<rect x="167" y="234.1" width="3" height="8.4" class="jd"/>
<rect x="168" y="233.9" width="1" height="8.8" class="jt"/>
<rect x="177" y="234.1" width="3" height="8.4" class="jd"/>
<rect x="178" y="233.9" width="1" height="8.8" class="jt"/>
<rect x="196" y="234.1" width="3" height="8.4" class="jd"/>
<rect x="197" y="233.9" width="1" height="8.8" class="jt"/>
<rect x="215" y="234.1" width="3" height="8.4" class="jd"/>
<rect x="216" y="233.9" width="1" height="8.8" class="jt"/>
<rect x="225" y="234.1" width="3" height="8.4" class="jd"/>
<rect x="226" y="233.9" width="1" height="8.8" class="jt"/>
<rect x="245" y="234.1" width="3" height="8.4" class="jd"/>
<rect x="246" y="233.9" width="1" height="8.8" class="jt"/>
<rect x="264" y="234.1" width="3" height="8.4" class="jd"/>
<rect x="265" y="233.9" width="1" height="8.8" class="jt"/>
<rect x="274" y="234.1" width="3" height="8.4" class="jd"/>
<rect x="275" y="233.9" width="1" height="8.8" class="jt"/>
<rect x="294" y="234.1" width="3" height="8.4" class="jd"/>
<rect x="295" y="233.9" width="1" height="8.8" class="jt"/>
<rect x="304" y="234.1" width="3" height="8.4" class="jd"/>
<rect x="305" y="233.9" width="1" height="8.8" class="jt"/>
<rect x="65.5" y="243.7" width="17.5" height="5.6" rx="1" class="br"/>
<rect x="85.0" y="243.7" width="7.0" height="5.6" rx="1" class="br"/>
<rect x="95.0" y="243.7" width="16.5" height="5.6" rx="1" class="br"/>
<rect x="114.5" y="243.7" width="16.5" height="5.6" rx="1" class="br"/>
<rect x="133.9" y="243.7" width="7.0" height="5.6" rx="1" class="br"/>
<rect x="143.9" y="243.7" width="16.5" height="5.6" rx="1" class="br"/>
<rect x="163.4" y="243.7" width="16.5" height="5.6" rx="1" class="br"/>
<rect x="182.9" y="243.7" width="7.0" height="5.6" rx="1" class="br"/>
<rect x="192.9" y="243.7" width="16.5" height="5.6" rx="1" class="br"/>
<rect x="212.4" y="243.7" width="16.5" height="5.6" rx="1" class="br"/>
<rect x="231.9" y="243.7" width="7.0" height="5.6" rx="1" class="br"/>
<rect x="241.9" y="243.7" width="16.5" height="5.6" rx="1" class="br"/>
<rect x="261.4" y="243.7" width="16.5" height="5.6" rx="1" class="br"/>
<rect x="280.8" y="243.7" width="7.0" height="5.6" rx="1" class="br"/>
<rect x="290.8" y="243.7" width="16.5" height="5.6" rx="1" class="br"/>
<rect x="310.0" y="243.7" width="7.0" height="5.6" rx="1" class="br"/>
<rect x="63" y="242.3" width="3" height="8.4" class="jd"/>
<rect x="64" y="242.1" width="1" height="8.8" class="jt"/>
<rect x="83" y="242.3" width="3" height="8.4" class="jd"/>
<rect x="84" y="242.1" width="1" height="8.8" class="jt"/>
<rect x="93" y="242.3" width="3" height="8.4" class="jd"/>
<rect x="94" y="242.1" width="1" height="8.8" class="jt"/>
<rect x="112" y="242.3" width="3" height="8.4" class="jd"/>
<rect x="113" y="242.1" width="1" height="8.8" class="jt"/>
<rect x="131" y="242.3" width="3" height="8.4" class="jd"/>
<rect x="132" y="242.1" width="1" height="8.8" class="jt"/>
<rect x="141" y="242.3" width="3" height="8.4" class="jd"/>
<rect x="142" y="242.1" width="1" height="8.8" class="jt"/>
<rect x="161" y="242.3" width="3" height="8.4" class="jd"/>
<rect x="162" y="242.1" width="1" height="8.8" class="jt"/>
<rect x="180" y="242.3" width="3" height="8.4" class="jd"/>
<rect x="181" y="242.1" width="1" height="8.8" class="jt"/>
<rect x="190" y="242.3" width="3" height="8.4" class="jd"/>
<rect x="191" y="242.1" width="1" height="8.8" class="jt"/>
<rect x="210" y="242.3" width="3" height="8.4" class="jd"/>
<rect x="211" y="242.1" width="1" height="8.8" class="jt"/>
<rect x="229" y="242.3" width="3" height="8.4" class="jd"/>
<rect x="230" y="242.1" width="1" height="8.8" class="jt"/>
<rect x="239" y="242.3" width="3" height="8.4" class="jd"/>
<rect x="240" y="242.1" width="1" height="8.8" class="jt"/>
<rect x="259" y="242.3" width="3" height="8.4" class="jd"/>
<rect x="260" y="242.1" width="1" height="8.8" class="jt"/>
<rect x="278" y="242.3" width="3" height="8.4" class="jd"/>
<rect x="279" y="242.1" width="1" height="8.8" class="jt"/>
<rect x="288" y="242.3" width="3" height="8.4" class="jd"/>
<rect x="289" y="242.1" width="1" height="8.8" class="jt"/>
<rect x="308" y="242.3" width="3" height="8.4" class="jd"/>
<rect x="309" y="242.1" width="1" height="8.8" class="jt"/>
<rect x="61.2" y="251.9" width="7.4" height="5.6" rx="1" class="br"/>
<rect x="71.1" y="251.9" width="7.0" height="5.6" rx="1" class="br"/>
<rect x="81.1" y="251.9" width="16.5" height="5.6" rx="1" class="br"/>
<rect x="100.6" y="251.9" width="16.5" height="5.6" rx="1" class="br"/>
<rect x="120.0" y="251.9" width="7.0" height="5.6" rx="1" class="br"/>
<rect x="130.1" y="251.9" width="16.5" height="5.6" rx="1" class="br"/>
<rect x="149.6" y="251.9" width="16.5" height="5.6" rx="1" class="br"/>
<rect x="169.0" y="251.9" width="7.0" height="5.6" rx="1" class="br"/>
<rect x="179.0" y="251.9" width="16.5" height="5.6" rx="1" class="br"/>
<rect x="198.5" y="251.9" width="16.5" height="5.6" rx="1" class="br"/>
<rect x="218.0" y="251.9" width="7.0" height="5.6" rx="1" class="br"/>
<rect x="228.0" y="251.9" width="16.5" height="5.6" rx="1" class="br"/>
<rect x="247.5" y="251.9" width="16.5" height="5.6" rx="1" class="br"/>
<rect x="266.9" y="251.9" width="7.0" height="5.6" rx="1" class="br"/>
<rect x="276.9" y="251.9" width="16.5" height="5.6" rx="1" class="br"/>
<rect x="295.8" y="251.9" width="7.5" height="5.6" rx="1" class="br"/>
<rect x="306.5" y="251.9" width="10.5" height="5.6" rx="1" class="br"/>
<rect x="69" y="250.5" width="3" height="8.4" class="jd"/>
<rect x="70" y="250.3" width="1" height="8.8" class="jt"/>
<rect x="79" y="250.5" width="3" height="8.4" class="jd"/>
<rect x="80" y="250.3" width="1" height="8.8" class="jt"/>
<rect x="98" y="250.5" width="3" height="8.4" class="jd"/>
<rect x="99" y="250.3" width="1" height="8.8" class="jt"/>
<rect x="118" y="250.5" width="3" height="8.4" class="jd"/>
<rect x="119" y="250.3" width="1" height="8.8" class="jt"/>
<rect x="128" y="250.5" width="3" height="8.4" class="jd"/>
<rect x="129" y="250.3" width="1" height="8.8" class="jt"/>
<rect x="147" y="250.5" width="3" height="8.4" class="jd"/>
<rect x="148" y="250.3" width="1" height="8.8" class="jt"/>
<rect x="167" y="250.5" width="3" height="8.4" class="jd"/>
<rect x="168" y="250.3" width="1" height="8.8" class="jt"/>
<rect x="177" y="250.5" width="3" height="8.4" class="jd"/>
<rect x="178" y="250.3" width="1" height="8.8" class="jt"/>
<rect x="196" y="250.5" width="3" height="8.4" class="jd"/>
<rect x="197" y="250.3" width="1" height="8.8" class="jt"/>
<rect x="215" y="250.5" width="3" height="8.4" class="jd"/>
<rect x="216" y="250.3" width="1" height="8.8" class="jt"/>
<rect x="225" y="250.5" width="3" height="8.4" class="jd"/>
<rect x="226" y="250.3" width="1" height="8.8" class="jt"/>
<rect x="245" y="250.5" width="3" height="8.4" class="jd"/>
<rect x="246" y="250.3" width="1" height="8.8" class="jt"/>
<rect x="264" y="250.5" width="3" height="8.4" class="jd"/>
<rect x="265" y="250.3" width="1" height="8.8" class="jt"/>
<rect x="274" y="250.5" width="3" height="8.4" class="jd"/>
<rect x="275" y="250.3" width="1" height="8.8" class="jt"/>
<rect x="294" y="250.5" width="3" height="8.4" class="jd"/>
<rect x="295" y="250.3" width="1" height="8.8" class="jt"/>
<rect x="304" y="250.5" width="3" height="8.4" class="jd"/>
<rect x="305" y="250.3" width="1" height="8.8" class="jt"/>
<rect x="65.5" y="260.1" width="17.5" height="5.6" rx="1" class="br"/>
<rect x="85.0" y="260.1" width="7.0" height="5.6" rx="1" class="br"/>
<rect x="95.0" y="260.1" width="16.5" height="5.6" rx="1" class="br"/>
<rect x="114.5" y="260.1" width="16.5" height="5.6" rx="1" class="br"/>
<rect x="133.9" y="260.1" width="7.0" height="5.6" rx="1" class="br"/>
<rect x="143.9" y="260.1" width="16.5" height="5.6" rx="1" class="br"/>
<rect x="163.4" y="260.1" width="16.5" height="5.6" rx="1" class="br"/>
<rect x="182.9" y="260.1" width="7.0" height="5.6" rx="1" class="br"/>
<rect x="192.9" y="260.1" width="16.5" height="5.6" rx="1" class="br"/>
<rect x="212.4" y="260.1" width="16.5" height="5.6" rx="1" class="br"/>
<rect x="231.9" y="260.1" width="7.0" height="5.6" rx="1" class="br"/>
<rect x="241.9" y="260.1" width="16.5" height="5.6" rx="1" class="br"/>
<rect x="261.4" y="260.1" width="16.5" height="5.6" rx="1" class="br"/>
<rect x="280.8" y="260.1" width="7.0" height="5.6" rx="1" class="br"/>
<rect x="290.8" y="260.1" width="16.5" height="5.6" rx="1" class="br"/>
<rect x="310.0" y="260.1" width="7.0" height="5.6" rx="1" class="br"/>
<rect x="63" y="258.7" width="3" height="8.4" class="jd"/>
<rect x="64" y="258.4" width="1" height="8.8" class="jt"/>
<rect x="83" y="258.7" width="3" height="8.4" class="jd"/>
<rect x="84" y="258.4" width="1" height="8.8" class="jt"/>
<rect x="93" y="258.7" width="3" height="8.4" class="jd"/>
<rect x="94" y="258.4" width="1" height="8.8" class="jt"/>
<rect x="112" y="258.7" width="3" height="8.4" class="jd"/>
<rect x="113" y="258.4" width="1" height="8.8" class="jt"/>
<rect x="131" y="258.7" width="3" height="8.4" class="jd"/>
<rect x="132" y="258.4" width="1" height="8.8" class="jt"/>
<rect x="141" y="258.7" width="3" height="8.4" class="jd"/>
<rect x="142" y="258.4" width="1" height="8.8" class="jt"/>
<rect x="161" y="258.7" width="3" height="8.4" class="jd"/>
<rect x="162" y="258.4" width="1" height="8.8" class="jt"/>
<rect x="180" y="258.7" width="3" height="8.4" class="jd"/>
<rect x="181" y="258.4" width="1" height="8.8" class="jt"/>
<rect x="190" y="258.7" width="3" height="8.4" class="jd"/>
<rect x="191" y="258.4" width="1" height="8.8" class="jt"/>
<rect x="210" y="258.7" width="3" height="8.4" class="jd"/>
<rect x="211" y="258.4" width="1" height="8.8" class="jt"/>
<rect x="229" y="258.7" width="3" height="8.4" class="jd"/>
<rect x="230" y="258.4" width="1" height="8.8" class="jt"/>
<rect x="239" y="258.7" width="3" height="8.4" class="jd"/>
<rect x="240" y="258.4" width="1" height="8.8" class="jt"/>
<rect x="259" y="258.7" width="3" height="8.4" class="jd"/>
<rect x="260" y="258.4" width="1" height="8.8" class="jt"/>
<rect x="278" y="258.7" width="3" height="8.4" class="jd"/>
<rect x="279" y="258.4" width="1" height="8.8" class="jt"/>
<rect x="288" y="258.7" width="3" height="8.4" class="jd"/>
<rect x="289" y="258.4" width="1" height="8.8" class="jt"/>
<rect x="308" y="258.7" width="3" height="8.4" class="jd"/>
<rect x="309" y="258.4" width="1" height="8.8" class="jt"/>
<rect x="61.2" y="268.2" width="7.4" height="5.6" rx="1" class="br"/>
<rect x="71.1" y="268.2" width="7.0" height="5.6" rx="1" class="br"/>
<rect x="81.1" y="268.2" width="16.5" height="5.6" rx="1" class="br"/>
<rect x="100.6" y="268.2" width="16.5" height="5.6" rx="1" class="br"/>
<rect x="120.0" y="268.2" width="7.0" height="5.6" rx="1" class="br"/>
<rect x="130.1" y="268.2" width="16.5" height="5.6" rx="1" class="br"/>
<rect x="149.6" y="268.2" width="16.5" height="5.6" rx="1" class="br"/>
<rect x="169.0" y="268.2" width="7.0" height="5.6" rx="1" class="br"/>
<rect x="179.0" y="268.2" width="16.5" height="5.6" rx="1" class="br"/>
<rect x="198.5" y="268.2" width="16.5" height="5.6" rx="1" class="br"/>
<rect x="218.0" y="268.2" width="7.0" height="5.6" rx="1" class="br"/>
<rect x="228.0" y="268.2" width="16.5" height="5.6" rx="1" class="br"/>
<rect x="247.5" y="268.2" width="16.5" height="5.6" rx="1" class="br"/>
<rect x="266.9" y="268.2" width="7.0" height="5.6" rx="1" class="br"/>
<rect x="276.9" y="268.2" width="16.5" height="5.6" rx="1" class="br"/>
<rect x="295.8" y="268.2" width="7.5" height="5.6" rx="1" class="br"/>
<rect x="306.5" y="268.2" width="10.5" height="5.6" rx="1" class="br"/>
<rect x="69" y="266.8" width="3" height="8.4" class="jd"/>
<rect x="70" y="266.6" width="1" height="8.8" class="jt"/>
<rect x="79" y="266.8" width="3" height="8.4" class="jd"/>
<rect x="80" y="266.6" width="1" height="8.8" class="jt"/>
<rect x="98" y="266.8" width="3" height="8.4" class="jd"/>
<rect x="99" y="266.6" width="1" height="8.8" class="jt"/>
<rect x="118" y="266.8" width="3" height="8.4" class="jd"/>
<rect x="119" y="266.6" width="1" height="8.8" class="jt"/>
<rect x="128" y="266.8" width="3" height="8.4" class="jd"/>
<rect x="129" y="266.6" width="1" height="8.8" class="jt"/>
<rect x="147" y="266.8" width="3" height="8.4" class="jd"/>
<rect x="148" y="266.6" width="1" height="8.8" class="jt"/>
<rect x="167" y="266.8" width="3" height="8.4" class="jd"/>
<rect x="168" y="266.6" width="1" height="8.8" class="jt"/>
<rect x="177" y="266.8" width="3" height="8.4" class="jd"/>
<rect x="178" y="266.6" width="1" height="8.8" class="jt"/>
<rect x="196" y="266.8" width="3" height="8.4" class="jd"/>
<rect x="197" y="266.6" width="1" height="8.8" class="jt"/>
<rect x="215" y="266.8" width="3" height="8.4" class="jd"/>
<rect x="216" y="266.6" width="1" height="8.8" class="jt"/>
<rect x="225" y="266.8" width="3" height="8.4" class="jd"/>
<rect x="226" y="266.6" width="1" height="8.8" class="jt"/>
<rect x="245" y="266.8" width="3" height="8.4" class="jd"/>
<rect x="246" y="266.6" width="1" height="8.8" class="jt"/>
<rect x="264" y="266.8" width="3" height="8.4" class="jd"/>
<rect x="265" y="266.6" width="1" height="8.8" class="jt"/>
<rect x="274" y="266.8" width="3" height="8.4" class="jd"/>
<rect x="275" y="266.6" width="1" height="8.8" class="jt"/>
<rect x="294" y="266.8" width="3" height="8.4" class="jd"/>
<rect x="295" y="266.6" width="1" height="8.8" class="jt"/>
<rect x="304" y="266.8" width="3" height="8.4" class="jd"/>
<rect x="305" y="266.6" width="1" height="8.8" class="jt"/>
<rect x="65.5" y="276.4" width="17.5" height="5.6" rx="1" class="br"/>
<rect x="85.0" y="276.4" width="7.0" height="5.6" rx="1" class="br"/>
<rect x="95.0" y="276.4" width="16.5" height="5.6" rx="1" class="br"/>
<rect x="114.5" y="276.4" width="16.5" height="5.6" rx="1" class="br"/>
<rect x="133.9" y="276.4" width="7.0" height="5.6" rx="1" class="br"/>
<rect x="143.9" y="276.4" width="16.5" height="5.6" rx="1" class="br"/>
<rect x="163.4" y="276.4" width="16.5" height="5.6" rx="1" class="br"/>
<rect x="182.9" y="276.4" width="7.0" height="5.6" rx="1" class="br"/>
<rect x="192.9" y="276.4" width="16.5" height="5.6" rx="1" class="br"/>
<rect x="212.4" y="276.4" width="16.5" height="5.6" rx="1" class="br"/>
<rect x="231.9" y="276.4" width="7.0" height="5.6" rx="1" class="br"/>
<rect x="241.9" y="276.4" width="16.5" height="5.6" rx="1" class="br"/>
<rect x="261.4" y="276.4" width="16.5" height="5.6" rx="1" class="br"/>
<rect x="280.8" y="276.4" width="7.0" height="5.6" rx="1" class="br"/>
<rect x="290.8" y="276.4" width="16.5" height="5.6" rx="1" class="br"/>
<rect x="310.0" y="276.4" width="7.0" height="5.6" rx="1" class="br"/>
<rect x="63" y="275.0" width="3" height="8.4" class="jd"/>
<rect x="64" y="274.8" width="1" height="8.8" class="jt"/>
<rect x="83" y="275.0" width="3" height="8.4" class="jd"/>
<rect x="84" y="274.8" width="1" height="8.8" class="jt"/>
<rect x="93" y="275.0" width="3" height="8.4" class="jd"/>
<rect x="94" y="274.8" width="1" height="8.8" class="jt"/>
<rect x="112" y="275.0" width="3" height="8.4" class="jd"/>
<rect x="113" y="274.8" width="1" height="8.8" class="jt"/>
<rect x="131" y="275.0" width="3" height="8.4" class="jd"/>
<rect x="132" y="274.8" width="1" height="8.8" class="jt"/>
<rect x="141" y="275.0" width="3" height="8.4" class="jd"/>
<rect x="142" y="274.8" width="1" height="8.8" class="jt"/>
<rect x="161" y="275.0" width="3" height="8.4" class="jd"/>
<rect x="162" y="274.8" width="1" height="8.8" class="jt"/>
<rect x="180" y="275.0" width="3" height="8.4" class="jd"/>
<rect x="181" y="274.8" width="1" height="8.8" class="jt"/>
<rect x="190" y="275.0" width="3" height="8.4" class="jd"/>
<rect x="191" y="274.8" width="1" height="8.8" class="jt"/>
<rect x="210" y="275.0" width="3" height="8.4" class="jd"/>
<rect x="211" y="274.8" width="1" height="8.8" class="jt"/>
<rect x="229" y="275.0" width="3" height="8.4" class="jd"/>
<rect x="230" y="274.8" width="1" height="8.8" class="jt"/>
<rect x="239" y="275.0" width="3" height="8.4" class="jd"/>
<rect x="240" y="274.8" width="1" height="8.8" class="jt"/>
<rect x="259" y="275.0" width="3" height="8.4" class="jd"/>
<rect x="260" y="274.8" width="1" height="8.8" class="jt"/>
<rect x="278" y="275.0" width="3" height="8.4" class="jd"/>
<rect x="279" y="274.8" width="1" height="8.8" class="jt"/>
<rect x="288" y="275.0" width="3" height="8.4" class="jd"/>
<rect x="289" y="274.8" width="1" height="8.8" class="jt"/>
<rect x="308" y="275.0" width="3" height="8.4" class="jd"/>
<rect x="309" y="274.8" width="1" height="8.8" class="jt"/>
<rect x="61.2" y="284.6" width="7.4" height="5.6" rx="1" class="br"/>
<rect x="71.1" y="284.6" width="7.0" height="5.6" rx="1" class="br"/>
<rect x="81.1" y="284.6" width="16.5" height="5.6" rx="1" class="br"/>
<rect x="100.6" y="284.6" width="16.5" height="5.6" rx="1" class="br"/>
<rect x="120.0" y="284.6" width="7.0" height="5.6" rx="1" class="br"/>
<rect x="130.1" y="284.6" width="16.5" height="5.6" rx="1" class="br"/>
<rect x="149.6" y="284.6" width="16.5" height="5.6" rx="1" class="br"/>
<rect x="169.0" y="284.6" width="7.0" height="5.6" rx="1" class="br"/>
<rect x="179.0" y="284.6" width="16.5" height="5.6" rx="1" class="br"/>
<rect x="198.5" y="284.6" width="16.5" height="5.6" rx="1" class="br"/>
<rect x="218.0" y="284.6" width="7.0" height="5.6" rx="1" class="br"/>
<rect x="228.0" y="284.6" width="16.5" height="5.6" rx="1" class="br"/>
<rect x="247.5" y="284.6" width="16.5" height="5.6" rx="1" class="br"/>
<rect x="266.9" y="284.6" width="7.0" height="5.6" rx="1" class="br"/>
<rect x="276.9" y="284.6" width="16.5" height="5.6" rx="1" class="br"/>
<rect x="295.8" y="284.6" width="7.5" height="5.6" rx="1" class="br"/>
<rect x="306.5" y="284.6" width="10.5" height="5.6" rx="1" class="br"/>
<rect x="69" y="283.2" width="3" height="8.4" class="jd"/>
<rect x="70" y="283.0" width="1" height="8.8" class="jt"/>
<rect x="79" y="283.2" width="3" height="8.4" class="jd"/>
<rect x="80" y="283.0" width="1" height="8.8" class="jt"/>
<rect x="98" y="283.2" width="3" height="8.4" class="jd"/>
<rect x="99" y="283.0" width="1" height="8.8" class="jt"/>
<rect x="118" y="283.2" width="3" height="8.4" class="jd"/>
<rect x="119" y="283.0" width="1" height="8.8" class="jt"/>
<rect x="128" y="283.2" width="3" height="8.4" class="jd"/>
<rect x="129" y="283.0" width="1" height="8.8" class="jt"/>
<rect x="147" y="283.2" width="3" height="8.4" class="jd"/>
<rect x="148" y="283.0" width="1" height="8.8" class="jt"/>
<rect x="167" y="283.2" width="3" height="8.4" class="jd"/>
<rect x="168" y="283.0" width="1" height="8.8" class="jt"/>
<rect x="177" y="283.2" width="3" height="8.4" class="jd"/>
<rect x="178" y="283.0" width="1" height="8.8" class="jt"/>
<rect x="196" y="283.2" width="3" height="8.4" class="jd"/>
<rect x="197" y="283.0" width="1" height="8.8" class="jt"/>
<rect x="215" y="283.2" width="3" height="8.4" class="jd"/>
<rect x="216" y="283.0" width="1" height="8.8" class="jt"/>
<rect x="225" y="283.2" width="3" height="8.4" class="jd"/>
<rect x="226" y="283.0" width="1" height="8.8" class="jt"/>
<rect x="245" y="283.2" width="3" height="8.4" class="jd"/>
<rect x="246" y="283.0" width="1" height="8.8" class="jt"/>
<rect x="264" y="283.2" width="3" height="8.4" class="jd"/>
<rect x="265" y="283.0" width="1" height="8.8" class="jt"/>
<rect x="274" y="283.2" width="3" height="8.4" class="jd"/>
<rect x="275" y="283.0" width="1" height="8.8" class="jt"/>
<rect x="294" y="283.2" width="3" height="8.4" class="jd"/>
<rect x="295" y="283.0" width="1" height="8.8" class="jt"/>
<rect x="304" y="283.2" width="3" height="8.4" class="jd"/>
<rect x="305" y="283.0" width="1" height="8.8" class="jt"/>
<rect x="65.5" y="292.8" width="17.5" height="5.6" rx="1" class="br"/>
<rect x="85.0" y="292.8" width="7.0" height="5.6" rx="1" class="br"/>
<rect x="95.0" y="292.8" width="16.5" height="5.6" rx="1" class="br"/>
<rect x="114.5" y="292.8" width="16.5" height="5.6" rx="1" class="br"/>
<rect x="133.9" y="292.8" width="7.0" height="5.6" rx="1" class="br"/>
<rect x="143.9" y="292.8" width="16.5" height="5.6" rx="1" class="br"/>
<rect x="163.4" y="292.8" width="16.5" height="5.6" rx="1" class="br"/>
<rect x="182.9" y="292.8" width="7.0" height="5.6" rx="1" class="br"/>
<rect x="192.9" y="292.8" width="16.5" height="5.6" rx="1" class="br"/>
<rect x="212.4" y="292.8" width="16.5" height="5.6" rx="1" class="br"/>
<rect x="231.9" y="292.8" width="7.0" height="5.6" rx="1" class="br"/>
<rect x="241.9" y="292.8" width="16.5" height="5.6" rx="1" class="br"/>
<rect x="261.4" y="292.8" width="16.5" height="5.6" rx="1" class="br"/>
<rect x="280.8" y="292.8" width="7.0" height="5.6" rx="1" class="br"/>
<rect x="290.8" y="292.8" width="16.5" height="5.6" rx="1" class="br"/>
<rect x="310.0" y="292.8" width="7.0" height="5.6" rx="1" class="br"/>
<rect x="63" y="291.4" width="3" height="8.4" class="jd"/>
<rect x="64" y="291.1" width="1" height="8.8" class="jt"/>
<rect x="83" y="291.4" width="3" height="8.4" class="jd"/>
<rect x="84" y="291.1" width="1" height="8.8" class="jt"/>
<rect x="93" y="291.4" width="3" height="8.4" class="jd"/>
<rect x="94" y="291.1" width="1" height="8.8" class="jt"/>
<rect x="112" y="291.4" width="3" height="8.4" class="jd"/>
<rect x="113" y="291.1" width="1" height="8.8" class="jt"/>
<rect x="131" y="291.4" width="3" height="8.4" class="jd"/>
<rect x="132" y="291.1" width="1" height="8.8" class="jt"/>
<rect x="141" y="291.4" width="3" height="8.4" class="jd"/>
<rect x="142" y="291.1" width="1" height="8.8" class="jt"/>
<rect x="161" y="291.4" width="3" height="8.4" class="jd"/>
<rect x="162" y="291.1" width="1" height="8.8" class="jt"/>
<rect x="180" y="291.4" width="3" height="8.4" class="jd"/>
<rect x="181" y="291.1" width="1" height="8.8" class="jt"/>
<rect x="190" y="291.4" width="3" height="8.4" class="jd"/>
<rect x="191" y="291.1" width="1" height="8.8" class="jt"/>
<rect x="210" y="291.4" width="3" height="8.4" class="jd"/>
<rect x="211" y="291.1" width="1" height="8.8" class="jt"/>
<rect x="229" y="291.4" width="3" height="8.4" class="jd"/>
<rect x="230" y="291.1" width="1" height="8.8" class="jt"/>
<rect x="239" y="291.4" width="3" height="8.4" class="jd"/>
<rect x="240" y="291.1" width="1" height="8.8" class="jt"/>
<rect x="259" y="291.4" width="3" height="8.4" class="jd"/>
<rect x="260" y="291.1" width="1" height="8.8" class="jt"/>
<rect x="278" y="291.4" width="3" height="8.4" class="jd"/>
<rect x="279" y="291.1" width="1" height="8.8" class="jt"/>
<rect x="288" y="291.4" width="3" height="8.4" class="jd"/>
<rect x="289" y="291.1" width="1" height="8.8" class="jt"/>
<rect x="308" y="291.4" width="3" height="8.4" class="jd"/>
<rect x="309" y="291.1" width="1" height="8.8" class="jt"/>
<rect x="61.2" y="300.9" width="7.4" height="5.6" rx="1" class="br"/>
<rect x="71.1" y="300.9" width="7.0" height="5.6" rx="1" class="br"/>
<rect x="81.1" y="300.9" width="16.5" height="5.6" rx="1" class="br"/>
<rect x="100.6" y="300.9" width="16.5" height="5.6" rx="1" class="br"/>
<rect x="120.0" y="300.9" width="7.0" height="5.6" rx="1" class="br"/>
<rect x="130.1" y="300.9" width="16.5" height="5.6" rx="1" class="br"/>
<rect x="149.6" y="300.9" width="16.5" height="5.6" rx="1" class="br"/>
<rect x="169.0" y="300.9" width="7.0" height="5.6" rx="1" class="br"/>
<rect x="179.0" y="300.9" width="16.5" height="5.6" rx="1" class="br"/>
<rect x="198.5" y="300.9" width="16.5" height="5.6" rx="1" class="br"/>
<rect x="218.0" y="300.9" width="7.0" height="5.6" rx="1" class="br"/>
<rect x="228.0" y="300.9" width="16.5" height="5.6" rx="1" class="br"/>
<rect x="247.5" y="300.9" width="16.5" height="5.6" rx="1" class="br"/>
<rect x="266.9" y="300.9" width="7.0" height="5.6" rx="1" class="br"/>
<rect x="276.9" y="300.9" width="16.5" height="5.6" rx="1" class="br"/>
<rect x="295.8" y="300.9" width="7.5" height="5.6" rx="1" class="br"/>
<rect x="306.5" y="300.9" width="10.5" height="5.6" rx="1" class="br"/>
<rect x="69" y="299.5" width="3" height="8.4" class="jd"/>
<rect x="70" y="299.3" width="1" height="8.8" class="jt"/>
<rect x="79" y="299.5" width="3" height="8.4" class="jd"/>
<rect x="80" y="299.3" width="1" height="8.8" class="jt"/>
<rect x="98" y="299.5" width="3" height="8.4" class="jd"/>
<rect x="99" y="299.3" width="1" height="8.8" class="jt"/>
<rect x="118" y="299.5" width="3" height="8.4" class="jd"/>
<rect x="119" y="299.3" width="1" height="8.8" class="jt"/>
<rect x="128" y="299.5" width="3" height="8.4" class="jd"/>
<rect x="129" y="299.3" width="1" height="8.8" class="jt"/>
<rect x="147" y="299.5" width="3" height="8.4" class="jd"/>
<rect x="148" y="299.3" width="1" height="8.8" class="jt"/>
<rect x="167" y="299.5" width="3" height="8.4" class="jd"/>
<rect x="168" y="299.3" width="1" height="8.8" class="jt"/>
<rect x="177" y="299.5" width="3" height="8.4" class="jd"/>
<rect x="178" y="299.3" width="1" height="8.8" class="jt"/>
<rect x="196" y="299.5" width="3" height="8.4" class="jd"/>
<rect x="197" y="299.3" width="1" height="8.8" class="jt"/>
<rect x="215" y="299.5" width="3" height="8.4" class="jd"/>
<rect x="216" y="299.3" width="1" height="8.8" class="jt"/>
<rect x="225" y="299.5" width="3" height="8.4" class="jd"/>
<rect x="226" y="299.3" width="1" height="8.8" class="jt"/>
<rect x="245" y="299.5" width="3" height="8.4" class="jd"/>
<rect x="246" y="299.3" width="1" height="8.8" class="jt"/>
<rect x="264" y="299.5" width="3" height="8.4" class="jd"/>
<rect x="265" y="299.3" width="1" height="8.8" class="jt"/>
<rect x="274" y="299.5" width="3" height="8.4" class="jd"/>
<rect x="275" y="299.3" width="1" height="8.8" class="jt"/>
<rect x="294" y="299.5" width="3" height="8.4" class="jd"/>
<rect x="295" y="299.3" width="1" height="8.8" class="jt"/>
<rect x="304" y="299.5" width="3" height="8.4" class="jd"/>
<rect x="305" y="299.3" width="1" height="8.8" class="jt"/>
<rect x="65.5" y="309.1" width="17.5" height="5.6" rx="1" class="br"/>
<rect x="85.0" y="309.1" width="7.0" height="5.6" rx="1" class="br"/>
<rect x="95.0" y="309.1" width="16.5" height="5.6" rx="1" class="br"/>
<rect x="114.5" y="309.1" width="16.5" height="5.6" rx="1" class="br"/>
<rect x="133.9" y="309.1" width="7.0" height="5.6" rx="1" class="br"/>
<rect x="143.9" y="309.1" width="16.5" height="5.6" rx="1" class="br"/>
<rect x="163.4" y="309.1" width="16.5" height="5.6" rx="1" class="br"/>
<rect x="182.9" y="309.1" width="7.0" height="5.6" rx="1" class="br"/>
<rect x="192.9" y="309.1" width="16.5" height="5.6" rx="1" class="br"/>
<rect x="212.4" y="309.1" width="16.5" height="5.6" rx="1" class="br"/>
<rect x="231.9" y="309.1" width="7.0" height="5.6" rx="1" class="br"/>
<rect x="241.9" y="309.1" width="16.5" height="5.6" rx="1" class="br"/>
<rect x="261.4" y="309.1" width="16.5" height="5.6" rx="1" class="br"/>
<rect x="280.8" y="309.1" width="7.0" height="5.6" rx="1" class="br"/>
<rect x="290.8" y="309.1" width="16.5" height="5.6" rx="1" class="br"/>
<rect x="310.0" y="309.1" width="7.0" height="5.6" rx="1" class="br"/>
<rect x="63" y="307.7" width="3" height="8.4" class="jd"/>
<rect x="64" y="307.5" width="1" height="8.8" class="jt"/>
<rect x="83" y="307.7" width="3" height="8.4" class="jd"/>
<rect x="84" y="307.5" width="1" height="8.8" class="jt"/>
<rect x="93" y="307.7" width="3" height="8.4" class="jd"/>
<rect x="94" y="307.5" width="1" height="8.8" class="jt"/>
<rect x="112" y="307.7" width="3" height="8.4" class="jd"/>
<rect x="113" y="307.5" width="1" height="8.8" class="jt"/>
<rect x="131" y="307.7" width="3" height="8.4" class="jd"/>
<rect x="132" y="307.5" width="1" height="8.8" class="jt"/>
<rect x="141" y="307.7" width="3" height="8.4" class="jd"/>
<rect x="142" y="307.5" width="1" height="8.8" class="jt"/>
<rect x="161" y="307.7" width="3" height="8.4" class="jd"/>
<rect x="162" y="307.5" width="1" height="8.8" class="jt"/>
<rect x="180" y="307.7" width="3" height="8.4" class="jd"/>
<rect x="181" y="307.5" width="1" height="8.8" class="jt"/>
<rect x="190" y="307.7" width="3" height="8.4" class="jd"/>
<rect x="191" y="307.5" width="1" height="8.8" class="jt"/>
<rect x="210" y="307.7" width="3" height="8.4" class="jd"/>
<rect x="211" y="307.5" width="1" height="8.8" class="jt"/>
<rect x="229" y="307.7" width="3" height="8.4" class="jd"/>
<rect x="230" y="307.5" width="1" height="8.8" class="jt"/>
<rect x="239" y="307.7" width="3" height="8.4" class="jd"/>
<rect x="240" y="307.5" width="1" height="8.8" class="jt"/>
<rect x="259" y="307.7" width="3" height="8.4" class="jd"/>
<rect x="260" y="307.5" width="1" height="8.8" class="jt"/>
<rect x="278" y="307.7" width="3" height="8.4" class="jd"/>
<rect x="279" y="307.5" width="1" height="8.8" class="jt"/>
<rect x="288" y="307.7" width="3" height="8.4" class="jd"/>
<rect x="289" y="307.5" width="1" height="8.8" class="jt"/>
<rect x="308" y="307.7" width="3" height="8.4" class="jd"/>
<rect x="309" y="307.5" width="1" height="8.8" class="jt"/>
<rect x="61.2" y="317.3" width="7.4" height="5.6" rx="1" class="br"/>
<rect x="71.1" y="317.3" width="7.0" height="5.6" rx="1" class="br"/>
<rect x="81.1" y="317.3" width="16.5" height="5.6" rx="1" class="br"/>
<rect x="100.6" y="317.3" width="16.5" height="5.6" rx="1" class="br"/>
<rect x="120.0" y="317.3" width="7.0" height="5.6" rx="1" class="br"/>
<rect x="130.1" y="317.3" width="16.5" height="5.6" rx="1" class="br"/>
<rect x="149.6" y="317.3" width="16.5" height="5.6" rx="1" class="br"/>
<rect x="169.0" y="317.3" width="7.0" height="5.6" rx="1" class="br"/>
<rect x="179.0" y="317.3" width="16.5" height="5.6" rx="1" class="br"/>
<rect x="198.5" y="317.3" width="16.5" height="5.6" rx="1" class="br"/>
<rect x="218.0" y="317.3" width="7.0" height="5.6" rx="1" class="br"/>
<rect x="228.0" y="317.3" width="16.5" height="5.6" rx="1" class="br"/>
<rect x="247.5" y="317.3" width="16.5" height="5.6" rx="1" class="br"/>
<rect x="266.9" y="317.3" width="7.0" height="5.6" rx="1" class="br"/>
<rect x="276.9" y="317.3" width="16.5" height="5.6" rx="1" class="br"/>
<rect x="295.8" y="317.3" width="7.5" height="5.6" rx="1" class="br"/>
<rect x="306.5" y="317.3" width="10.5" height="5.6" rx="1" class="br"/>
<rect x="69" y="315.9" width="3" height="8.4" class="jd"/>
<rect x="70" y="315.7" width="1" height="8.8" class="jt"/>
<rect x="79" y="315.9" width="3" height="8.4" class="jd"/>
<rect x="80" y="315.7" width="1" height="8.8" class="jt"/>
<rect x="98" y="315.9" width="3" height="8.4" class="jd"/>
<rect x="99" y="315.7" width="1" height="8.8" class="jt"/>
<rect x="118" y="315.9" width="3" height="8.4" class="jd"/>
<rect x="119" y="315.7" width="1" height="8.8" class="jt"/>
<rect x="128" y="315.9" width="3" height="8.4" class="jd"/>
<rect x="129" y="315.7" width="1" height="8.8" class="jt"/>
<rect x="147" y="315.9" width="3" height="8.4" class="jd"/>
<rect x="148" y="315.7" width="1" height="8.8" class="jt"/>
<rect x="167" y="315.9" width="3" height="8.4" class="jd"/>
<rect x="168" y="315.7" width="1" height="8.8" class="jt"/>
<rect x="177" y="315.9" width="3" height="8.4" class="jd"/>
<rect x="178" y="315.7" width="1" height="8.8" class="jt"/>
<rect x="196" y="315.9" width="3" height="8.4" class="jd"/>
<rect x="197" y="315.7" width="1" height="8.8" class="jt"/>
<rect x="215" y="315.9" width="3" height="8.4" class="jd"/>
<rect x="216" y="315.7" width="1" height="8.8" class="jt"/>
<rect x="225" y="315.9" width="3" height="8.4" class="jd"/>
<rect x="226" y="315.7" width="1" height="8.8" class="jt"/>
<rect x="245" y="315.9" width="3" height="8.4" class="jd"/>
<rect x="246" y="315.7" width="1" height="8.8" class="jt"/>
<rect x="264" y="315.9" width="3" height="8.4" class="jd"/>
<rect x="265" y="315.7" width="1" height="8.8" class="jt"/>
<rect x="274" y="315.9" width="3" height="8.4" class="jd"/>
<rect x="275" y="315.7" width="1" height="8.8" class="jt"/>
<rect x="294" y="315.9" width="3" height="8.4" class="jd"/>
<rect x="295" y="315.7" width="1" height="8.8" class="jt"/>
<rect x="304" y="315.9" width="3" height="8.4" class="jd"/>
<rect x="305" y="315.7" width="1" height="8.8" class="jt"/>
<rect x="65.5" y="325.5" width="17.5" height="5.6" rx="1" class="br"/>
<rect x="85.0" y="325.5" width="7.0" height="5.6" rx="1" class="br"/>
<rect x="95.0" y="325.5" width="16.5" height="5.6" rx="1" class="br"/>
<rect x="114.5" y="325.5" width="16.5" height="5.6" rx="1" class="br"/>
<rect x="133.9" y="325.5" width="7.0" height="5.6" rx="1" class="br"/>
<rect x="143.9" y="325.5" width="16.5" height="5.6" rx="1" class="br"/>
<rect x="163.4" y="325.5" width="16.5" height="5.6" rx="1" class="br"/>
<rect x="182.9" y="325.5" width="7.0" height="5.6" rx="1" class="br"/>
<rect x="192.9" y="325.5" width="16.5" height="5.6" rx="1" class="br"/>
<rect x="212.4" y="325.5" width="16.5" height="5.6" rx="1" class="br"/>
<rect x="231.9" y="325.5" width="7.0" height="5.6" rx="1" class="br"/>
<rect x="241.9" y="325.5" width="16.5" height="5.6" rx="1" class="br"/>
<rect x="261.4" y="325.5" width="16.5" height="5.6" rx="1" class="br"/>
<rect x="280.8" y="325.5" width="7.0" height="5.6" rx="1" class="br"/>
<rect x="290.8" y="325.5" width="16.5" height="5.6" rx="1" class="br"/>
<rect x="310.0" y="325.5" width="7.0" height="5.6" rx="1" class="br"/>
<rect x="63" y="324.1" width="3" height="8.4" class="jd"/>
<rect x="64" y="323.9" width="1" height="8.8" class="jt"/>
<rect x="83" y="324.1" width="3" height="8.4" class="jd"/>
<rect x="84" y="323.9" width="1" height="8.8" class="jt"/>
<rect x="93" y="324.1" width="3" height="8.4" class="jd"/>
<rect x="94" y="323.9" width="1" height="8.8" class="jt"/>
<rect x="112" y="324.1" width="3" height="8.4" class="jd"/>
<rect x="113" y="323.9" width="1" height="8.8" class="jt"/>
<rect x="131" y="324.1" width="3" height="8.4" class="jd"/>
<rect x="132" y="323.9" width="1" height="8.8" class="jt"/>
<rect x="141" y="324.1" width="3" height="8.4" class="jd"/>
<rect x="142" y="323.9" width="1" height="8.8" class="jt"/>
<rect x="161" y="324.1" width="3" height="8.4" class="jd"/>
<rect x="162" y="323.9" width="1" height="8.8" class="jt"/>
<rect x="180" y="324.1" width="3" height="8.4" class="jd"/>
<rect x="181" y="323.9" width="1" height="8.8" class="jt"/>
<rect x="190" y="324.1" width="3" height="8.4" class="jd"/>
<rect x="191" y="323.9" width="1" height="8.8" class="jt"/>
<rect x="210" y="324.1" width="3" height="8.4" class="jd"/>
<rect x="211" y="323.9" width="1" height="8.8" class="jt"/>
<rect x="229" y="324.1" width="3" height="8.4" class="jd"/>
<rect x="230" y="323.9" width="1" height="8.8" class="jt"/>
<rect x="239" y="324.1" width="3" height="8.4" class="jd"/>
<rect x="240" y="323.9" width="1" height="8.8" class="jt"/>
<rect x="259" y="324.1" width="3" height="8.4" class="jd"/>
<rect x="260" y="323.9" width="1" height="8.8" class="jt"/>
<rect x="278" y="324.1" width="3" height="8.4" class="jd"/>
<rect x="279" y="323.9" width="1" height="8.8" class="jt"/>
<rect x="288" y="324.1" width="3" height="8.4" class="jd"/>
<rect x="289" y="323.9" width="1" height="8.8" class="jt"/>
<rect x="308" y="324.1" width="3" height="8.4" class="jd"/>
<rect x="309" y="323.9" width="1" height="8.8" class="jt"/>
<rect x="61.2" y="333.6" width="7.4" height="5.6" rx="1" class="br"/>
<rect x="71.1" y="333.6" width="7.0" height="5.6" rx="1" class="br"/>
<rect x="81.1" y="333.6" width="16.5" height="5.6" rx="1" class="br"/>
<rect x="100.6" y="333.6" width="16.5" height="5.6" rx="1" class="br"/>
<rect x="120.0" y="333.6" width="7.0" height="5.6" rx="1" class="br"/>
<rect x="130.1" y="333.6" width="16.5" height="5.6" rx="1" class="br"/>
<rect x="149.6" y="333.6" width="16.5" height="5.6" rx="1" class="br"/>
<rect x="169.0" y="333.6" width="7.0" height="5.6" rx="1" class="br"/>
<rect x="179.0" y="333.6" width="16.5" height="5.6" rx="1" class="br"/>
<rect x="198.5" y="333.6" width="16.5" height="5.6" rx="1" class="br"/>
<rect x="218.0" y="333.6" width="7.0" height="5.6" rx="1" class="br"/>
<rect x="228.0" y="333.6" width="16.5" height="5.6" rx="1" class="br"/>
<rect x="247.5" y="333.6" width="16.5" height="5.6" rx="1" class="br"/>
<rect x="266.9" y="333.6" width="7.0" height="5.6" rx="1" class="br"/>
<rect x="276.9" y="333.6" width="16.5" height="5.6" rx="1" class="br"/>
<rect x="295.8" y="333.6" width="7.5" height="5.6" rx="1" class="br"/>
<rect x="306.5" y="333.6" width="10.5" height="5.6" rx="1" class="br"/>
<rect x="69" y="332.2" width="3" height="8.4" class="jd"/>
<rect x="70" y="332.0" width="1" height="8.8" class="jt"/>
<rect x="79" y="332.2" width="3" height="8.4" class="jd"/>
<rect x="80" y="332.0" width="1" height="8.8" class="jt"/>
<rect x="98" y="332.2" width="3" height="8.4" class="jd"/>
<rect x="99" y="332.0" width="1" height="8.8" class="jt"/>
<rect x="118" y="332.2" width="3" height="8.4" class="jd"/>
<rect x="119" y="332.0" width="1" height="8.8" class="jt"/>
<rect x="128" y="332.2" width="3" height="8.4" class="jd"/>
<rect x="129" y="332.0" width="1" height="8.8" class="jt"/>
<rect x="147" y="332.2" width="3" height="8.4" class="jd"/>
<rect x="148" y="332.0" width="1" height="8.8" class="jt"/>
<rect x="167" y="332.2" width="3" height="8.4" class="jd"/>
<rect x="168" y="332.0" width="1" height="8.8" class="jt"/>
<rect x="177" y="332.2" width="3" height="8.4" class="jd"/>
<rect x="178" y="332.0" width="1" height="8.8" class="jt"/>
<rect x="196" y="332.2" width="3" height="8.4" class="jd"/>
<rect x="197" y="332.0" width="1" height="8.8" class="jt"/>
<rect x="215" y="332.2" width="3" height="8.4" class="jd"/>
<rect x="216" y="332.0" width="1" height="8.8" class="jt"/>
<rect x="225" y="332.2" width="3" height="8.4" class="jd"/>
<rect x="226" y="332.0" width="1" height="8.8" class="jt"/>
<rect x="245" y="332.2" width="3" height="8.4" class="jd"/>
<rect x="246" y="332.0" width="1" height="8.8" class="jt"/>
<rect x="264" y="332.2" width="3" height="8.4" class="jd"/>
<rect x="265" y="332.0" width="1" height="8.8" class="jt"/>
<rect x="274" y="332.2" width="3" height="8.4" class="jd"/>
<rect x="275" y="332.0" width="1" height="8.8" class="jt"/>
<rect x="294" y="332.2" width="3" height="8.4" class="jd"/>
<rect x="295" y="332.0" width="1" height="8.8" class="jt"/>
<rect x="304" y="332.2" width="3" height="8.4" class="jd"/>
<rect x="305" y="332.0" width="1" height="8.8" class="jt"/>
<rect x="65.5" y="341.8" width="17.5" height="5.6" rx="1" class="br"/>
<rect x="85.0" y="341.8" width="7.0" height="5.6" rx="1" class="br"/>
<rect x="95.0" y="341.8" width="16.5" height="5.6" rx="1" class="br"/>
<rect x="114.5" y="341.8" width="16.5" height="5.6" rx="1" class="br"/>
<rect x="133.9" y="341.8" width="7.0" height="5.6" rx="1" class="br"/>
<rect x="143.9" y="341.8" width="16.5" height="5.6" rx="1" class="br"/>
<rect x="163.4" y="341.8" width="16.5" height="5.6" rx="1" class="br"/>
<rect x="182.9" y="341.8" width="7.0" height="5.6" rx="1" class="br"/>
<rect x="192.9" y="341.8" width="16.5" height="5.6" rx="1" class="br"/>
<rect x="212.4" y="341.8" width="16.5" height="5.6" rx="1" class="br"/>
<rect x="231.9" y="341.8" width="7.0" height="5.6" rx="1" class="br"/>
<rect x="241.9" y="341.8" width="16.5" height="5.6" rx="1" class="br"/>
<rect x="261.4" y="341.8" width="16.5" height="5.6" rx="1" class="br"/>
<rect x="280.8" y="341.8" width="7.0" height="5.6" rx="1" class="br"/>
<rect x="290.8" y="341.8" width="16.5" height="5.6" rx="1" class="br"/>
<rect x="310.0" y="341.8" width="7.0" height="5.6" rx="1" class="br"/>
<rect x="63" y="340.4" width="3" height="8.4" class="jd"/>
<rect x="64" y="340.2" width="1" height="8.8" class="jt"/>
<rect x="83" y="340.4" width="3" height="8.4" class="jd"/>
<rect x="84" y="340.2" width="1" height="8.8" class="jt"/>
<rect x="93" y="340.4" width="3" height="8.4" class="jd"/>
<rect x="94" y="340.2" width="1" height="8.8" class="jt"/>
<rect x="112" y="340.4" width="3" height="8.4" class="jd"/>
<rect x="113" y="340.2" width="1" height="8.8" class="jt"/>
<rect x="131" y="340.4" width="3" height="8.4" class="jd"/>
<rect x="132" y="340.2" width="1" height="8.8" class="jt"/>
<rect x="141" y="340.4" width="3" height="8.4" class="jd"/>
<rect x="142" y="340.2" width="1" height="8.8" class="jt"/>
<rect x="161" y="340.4" width="3" height="8.4" class="jd"/>
<rect x="162" y="340.2" width="1" height="8.8" class="jt"/>
<rect x="180" y="340.4" width="3" height="8.4" class="jd"/>
<rect x="181" y="340.2" width="1" height="8.8" class="jt"/>
<rect x="190" y="340.4" width="3" height="8.4" class="jd"/>
<rect x="191" y="340.2" width="1" height="8.8" class="jt"/>
<rect x="210" y="340.4" width="3" height="8.4" class="jd"/>
<rect x="211" y="340.2" width="1" height="8.8" class="jt"/>
<rect x="229" y="340.4" width="3" height="8.4" class="jd"/>
<rect x="230" y="340.2" width="1" height="8.8" class="jt"/>
<rect x="239" y="340.4" width="3" height="8.4" class="jd"/>
<rect x="240" y="340.2" width="1" height="8.8" class="jt"/>
<rect x="259" y="340.4" width="3" height="8.4" class="jd"/>
<rect x="260" y="340.2" width="1" height="8.8" class="jt"/>
<rect x="278" y="340.4" width="3" height="8.4" class="jd"/>
<rect x="279" y="340.2" width="1" height="8.8" class="jt"/>
<rect x="288" y="340.4" width="3" height="8.4" class="jd"/>
<rect x="289" y="340.2" width="1" height="8.8" class="jt"/>
<rect x="308" y="340.4" width="3" height="8.4" class="jd"/>
<rect x="309" y="340.2" width="1" height="8.8" class="jt"/>
<rect x="319.5" y="144" width="4.3" height="205" fill="#a6a6a6" stroke="#555" stroke-width="1"/>
<line x1="318" y1="145" x2="318" y2="348" stroke="#ededed" stroke-width="1"/>
<line x1="321.6" y1="150" x2="321.6" y2="348.5" stroke="#7a7a7a" stroke-width="0.9"/>
<line x1="322.7" y1="152" x2="322.7" y2="348.5" stroke="#c8c8c8" stroke-width="0.9"/>
<!-- screen -->
<rect x="110.5" y="38.2" width="179" height="97.8" rx="1.5" fill="#dadada" stroke="#6a6a6a" stroke-width="0.9"/>
<rect x="110.5" y="42.3" width="175.8" height="93.8" fill="#999999" stroke="#333" stroke-width="1"/>
<line x1="288.3" y1="43" x2="288.3" y2="134.5" stroke="#555" stroke-width="0.8"/>
<line x1="118.2" y1="39.3" x2="117" y2="41.6" class="tk"/>
<line x1="140.2" y1="39.3" x2="139" y2="41.6" class="tk"/>
<line x1="145.89999999999998" y1="39.3" x2="144.7" y2="41.6" class="tk"/>
<line x1="152.2" y1="39.3" x2="151" y2="41.6" class="tk"/>
<line x1="158.6" y1="39.3" x2="157.4" y2="41.6" class="tk"/>
<line x1="172.89999999999998" y1="39.3" x2="171.7" y2="41.6" class="tk"/>
<line x1="179.2" y1="39.3" x2="178" y2="41.6" class="tk"/>
<line x1="187.2" y1="39.3" x2="186" y2="41.6" class="tk"/>
<line x1="211.2" y1="39.3" x2="210" y2="41.6" class="tk"/>
<line x1="217.89999999999998" y1="39.3" x2="216.7" y2="41.6" class="tk"/>
<line x1="223.7" y1="39.3" x2="222.5" y2="41.6" class="tk"/>
<line x1="246.2" y1="39.3" x2="245" y2="41.6" class="tk"/>
<line x1="252.89999999999998" y1="39.3" x2="251.7" y2="41.6" class="tk"/>
<line x1="259.5" y1="39.3" x2="258.3" y2="41.6" class="tk"/>
<line x1="281.2" y1="39.3" x2="280" y2="41.6" class="tk"/>
<line x1="287.0" y1="39.3" x2="285.8" y2="41.6" class="tk"/>
<line x1="288.3" y1="51.800000000000004" x2="288.3" y2="55.4" stroke="#111" stroke-width="1.6"/>
<line x1="288.3" y1="83.2" x2="288.3" y2="86.8" stroke="#111" stroke-width="1.6"/>
<line x1="288.3" y1="114.9" x2="288.3" y2="118.5" stroke="#111" stroke-width="1.6"/>
<!-- label -->
<line x1="298.5" y1="78" x2="280" y2="74.3" stroke="#555" stroke-width="1"/>
<polygon points="274,73.3 282,70.8 281,77" fill="#222"/>
<text x="303.5" y="82.8" font-size="8.6" fill="#666">显示屏</text>
<text x="160.5" y="387" font-size="13.5" fill="#222" font-weight="bold" letter-spacing="0.4">正视图</text>
<text x="248.2" y="407.7" font-size="13.5" fill="#222" font-weight="bold" letter-spacing="0.5">楼顶安装方式</text>

<!-- SIDE VIEW -->
<polygon points="479.6,318.4 558,318.4 545,361 462,361" fill="#c0c0c0" stroke="#555" stroke-width="1.2"/>
<polygon points="500.5,126.3 596,126.3 596,138.7 522.4,143.8 522.6,344.6 500.5,344.6" fill="#7f7f7f" stroke="#444" stroke-width="1.2" stroke-linejoin="round"/>
<g class="fr" fill="none">
<line x1="490.2" y1="49.8" x2="525.5" y2="49.8"/>
<line x1="492.8" y1="52.5" x2="523" y2="52.5"/>
<line x1="490.5" y1="50.5" x2="505" y2="124.7"/>
<line x1="493" y1="52.5" x2="507.5" y2="124.7"/>
<line x1="499.1" y1="77.4" x2="522.7" y2="52.3"/>
<line x1="500.5" y1="80" x2="523" y2="55.5"/>
<line x1="499.5" y1="80" x2="523" y2="80"/>
<line x1="500" y1="83.7" x2="523" y2="83.7"/>
<line x1="500.5" y1="86.6" x2="524" y2="106"/>
<line x1="501" y1="90" x2="523" y2="109"/>
<line x1="523" y1="106.5" x2="507.5" y2="124.2"/>
<line x1="523" y1="110" x2="511" y2="124.2"/>
<line x1="505" y1="124.5" x2="523" y2="124.5"/>
</g>
<rect x="523" y="50" width="3.4" height="75.5" fill="#bdbdbd" stroke="#707070" stroke-width="0.9"/>
<line x1="526" y1="51" x2="580.5" y2="122.4" stroke="#555" stroke-width="1.1"/>
<rect x="578.4" y="122.4" width="4.2" height="4" fill="#fff" stroke="#555" stroke-width="0.8"/>
<polygon points="482.5,51 490,50.5 503.8,123.5 494.2,124" fill="#777" stroke="#444" stroke-width="1"/>
<circle cx="480.9" cy="51.9" r="4.2" fill="none" stroke="#777" stroke-width="1"/>
<line x1="481.6" y1="56.5" x2="481.6" y2="72" stroke="#777" stroke-width="1"/>
<line x1="461" y1="80.7" x2="479" y2="76.8" stroke="#666" stroke-width="1"/>
<polygon points="484.4,75.7 478.3,73.6 478.6,79.4" fill="#111"/>
<text x="429.8" y="85.4" font-size="9.1" fill="#666">显示屏</text>
<line x1="531.5" y1="32" x2="522" y2="41.3" stroke="#777" stroke-width="1.1"/>
<polygon points="517.7,45.8 519.6,39.4 524.3,43.4" fill="#111"/>
<text x="537.8" y="36.6" font-size="9.6" fill="#666">安装框架</text>
<line x1="469.5" y1="163.9" x2="495" y2="163.9" stroke="#7a7a7a" stroke-width="1.5"/>
<polygon points="500.6,163.9 493.3,161 494.5,163.9 493.3,166.8" fill="#111"/>
<text x="446.8" y="166.5" font-size="9.3" fill="#666">墙体</text>
<line x1="586" y1="163.5" x2="568.5" y2="146" stroke="#666" stroke-width="1"/>
<polygon points="564.4,141.9 566,148.5 571,144" fill="#222"/>
<text x="582.5" y="175.3" font-size="9.3" fill="#666">楼顶</text>
<text x="363.8" y="46.6" font-size="9.43" fill="#555">注：为保证较好视角，显示</text>
<text x="368.8" y="59.3" font-size="9.4" fill="#555">屏面与墙体有5°-8°的倾角</text>
<text x="498.6" y="386.6" font-size="13.5" fill="#222" font-weight="bold" letter-spacing="0.4">侧视图</text>
</svg>
</body></html>
